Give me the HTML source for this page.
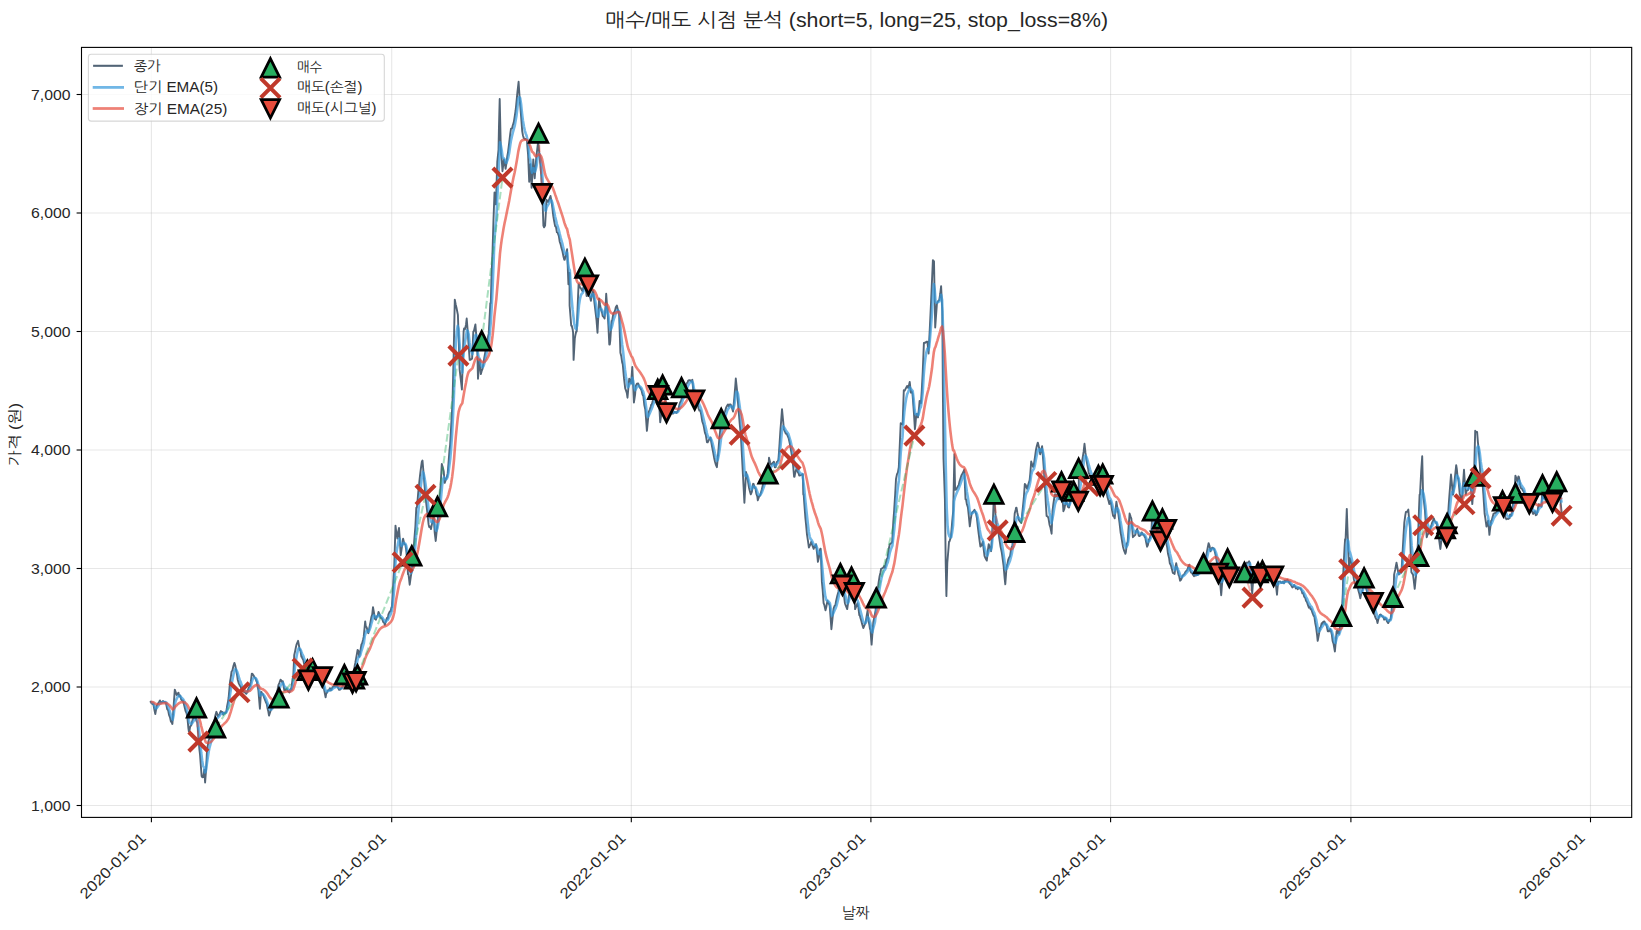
<!DOCTYPE html>
<html lang="ko"><head><meta charset="utf-8"><title>매수/매도 시점 분석</title>
<style>html,body{margin:0;padding:0;background:#fff}svg{display:block}</style></head>
<body>
<svg width="1641" height="930" viewBox="0 0 1641 930">
<rect width="1641" height="930" fill="#fff"/>
<g stroke="#b0b0b0" stroke-opacity="0.3" stroke-width="1.1" fill="none">
<path d="M151.4 47.4 V817.4"/>
<path d="M391.7 47.4 V817.4"/>
<path d="M631.3 47.4 V817.4"/>
<path d="M870.9 47.4 V817.4"/>
<path d="M1110.6 47.4 V817.4"/>
<path d="M1350.9 47.4 V817.4"/>
<path d="M1590.5 47.4 V817.4"/>
<path d="M81.5 805.5 H1631.7"/>
<path d="M81.5 687.0 H1631.7"/>
<path d="M81.5 568.5 H1631.7"/>
<path d="M81.5 450.0 H1631.7"/>
<path d="M81.5 331.5 H1631.7"/>
<path d="M81.5 213.0 H1631.7"/>
<path d="M81.5 94.5 H1631.7"/>
</g>
<clipPath id="c"><rect x="81.5" y="47.4" width="1550.2" height="770.0"/></clipPath>
<g clip-path="url(#c)" fill="none" stroke-linejoin="round">
<path d="M150.7 701.9 L151.6 703.2 L152.5 704.1 L153.0 704.1 L153.4 704.3 L154.4 709.9 L155.3 714.1 L156.2 708.9 L156.8 705.7 L158.0 703.6 L159.1 701.9 L159.9 700.4 L160.8 702.4 L161.7 702.2 L162.9 701.1 L163.6 701.6 L164.5 701.9 L165.4 702.4 L166.0 703.4 L167.2 709.1 L168.2 710.5 L169.0 714.8 L170.0 717.3 L170.9 721.5 L171.8 722.7 L172.4 724.0 L173.7 705.1 L174.8 689.6 L175.5 691.5 L176.7 695.0 L177.3 693.9 L178.5 692.7 L179.2 696.4 L180.1 695.5 L181.2 699.6 L181.9 700.2 L182.9 700.4 L183.8 703.7 L184.3 705.7 L185.6 711.2 L186.6 713.3 L187.5 718.7 L188.4 728.3 L188.9 731.6 L189.3 731.6 L190.2 726.3 L191.2 725.5 L192.1 721.4 L192.7 719.4 L193.9 717.8 L195.0 716.4 L195.7 718.0 L196.6 721.6 L197.3 722.3 L198.4 737.3 L199.4 749.3 L200.0 754.5 L201.6 776.0 L202.2 777.2 L203.2 777.1 L204.3 769.6 L205.1 782.5 L206.1 769.6 L207.0 750.2 L207.7 745.9 L208.6 740.5 L209.5 738.3 L210.3 737.7 L211.4 733.5 L212.3 728.6 L213.3 725.5 L214.1 723.8 L215.0 716.7 L216.4 711.8 L216.9 713.1 L217.9 716.4 L218.7 715.4 L219.6 714.0 L220.9 711.0 L221.5 712.1 L222.4 712.0 L223.2 714.8 L224.2 712.5 L225.1 713.2 L226.3 711.8 L227.0 706.8 L227.9 702.3 L228.6 698.0 L230.1 681.2 L230.7 677.8 L231.6 671.5 L232.4 670.5 L233.4 666.0 L234.4 662.9 L235.3 665.6 L236.2 670.5 L237.1 675.2 L237.7 679.7 L238.9 683.6 L240.0 685.8 L240.8 686.7 L241.7 690.6 L242.6 690.8 L243.8 691.9 L244.4 692.0 L245.4 692.9 L246.3 693.8 L246.9 692.7 L248.1 689.4 L249.0 687.2 L250.0 685.8 L250.9 681.2 L251.8 673.6 L252.2 673.6 L252.7 674.2 L253.6 675.5 L254.5 677.4 L255.5 678.3 L256.4 681.2 L256.8 681.2 L257.3 685.0 L258.4 690.4 L259.1 699.1 L259.9 708.7 L261.0 691.9 L261.4 691.9 L261.9 693.3 L262.8 694.0 L263.7 696.5 L264.7 699.1 L265.6 701.5 L266.8 704.1 L267.4 707.7 L268.3 711.4 L269.0 715.6 L270.2 712.0 L271.3 708.7 L272.0 707.8 L272.9 704.2 L273.9 703.0 L274.4 701.1 L275.7 696.1 L276.6 694.2 L277.4 690.4 L278.4 685.2 L279.4 682.8 L280.5 679.7 L281.2 680.3 L282.1 682.0 L282.8 681.2 L284.3 690.4 L284.9 690.4 L285.8 689.3 L286.6 688.9 L287.6 690.7 L288.9 691.9 L289.5 692.4 L290.4 689.2 L291.2 689.6 L292.2 681.8 L292.7 678.2 L293.2 678.2 L294.2 655.3 L295.0 651.7 L295.9 647.3 L296.5 644.6 L298.1 640.8 L298.7 644.2 L299.6 649.2 L300.5 650.9 L301.4 656.8 L301.9 656.8 L302.3 658.3 L303.3 659.9 L304.2 664.4 L305.1 665.4 L306.0 668.9 L306.9 671.4 L308.0 672.8 L308.8 674.2 L309.7 676.1 L310.6 679.7 L311.0 679.7 L311.5 677.6 L312.5 677.1 L313.4 677.2 L314.3 677.5 L315.6 675.1 L316.1 677.7 L317.1 678.1 L318.0 678.4 L318.9 680.2 L319.4 681.2 L320.7 681.8 L321.6 682.9 L322.6 685.3 L323.3 685.8 L324.4 691.0 L325.6 697.3 L326.2 693.6 L327.2 692.3 L327.8 690.4 L329.0 690.1 L329.9 688.2 L330.8 690.4 L331.8 689.0 L332.4 687.3 L333.6 686.4 L334.5 686.3 L335.4 686.5 L336.4 686.0 L337.0 685.8 L338.2 688.1 L339.1 689.8 L340.1 689.6 L341.0 688.4 L341.9 687.8 L343.1 685.8 L343.7 684.3 L344.6 685.5 L345.5 681.7 L346.2 681.2 L347.4 681.9 L348.3 683.2 L349.2 684.8 L350.0 684.3 L351.1 682.0 L352.0 679.1 L353.0 676.7 L353.8 671.8 L354.7 665.8 L355.3 662.9 L356.6 655.7 L357.6 649.9 L358.4 650.8 L359.2 656.8 L360.3 651.5 L361.4 644.6 L362.1 643.5 L363.0 640.0 L363.7 636.9 L365.2 621.4 L365.8 626.4 L366.7 627.4 L367.6 630.9 L368.3 633.2 L369.4 627.5 L370.6 621.4 L371.3 617.4 L372.2 614.5 L373.0 607.2 L374.0 613.0 L375.0 619.0 L375.4 619.0 L375.9 619.8 L376.8 616.3 L377.7 615.7 L378.5 611.9 L379.6 614.4 L380.5 617.9 L381.3 617.8 L382.3 619.3 L383.2 622.0 L384.2 622.7 L384.8 624.9 L386.0 620.9 L386.9 618.1 L387.8 618.7 L388.4 614.3 L389.7 611.7 L390.6 611.2 L391.5 607.2 L391.9 607.2 L392.4 599.3 L393.3 582.2 L394.3 564.6 L395.5 525.6 L396.1 530.6 L397.4 538.6 L397.9 533.8 L399.0 528.0 L399.8 539.3 L400.7 555.2 L401.6 549.2 L402.5 542.9 L403.1 538.6 L404.4 544.1 L405.3 544.5 L406.1 549.2 L407.1 559.1 L408.0 574.1 L408.5 574.1 L409.0 578.3 L409.7 584.7 L410.8 576.6 L412.0 569.4 L412.6 563.9 L413.6 549.4 L414.4 538.6 L415.4 526.0 L416.3 507.8 L416.8 507.8 L417.2 505.1 L418.2 492.8 L419.1 484.2 L420.0 475.6 L421.0 467.6 L421.8 462.0 L422.5 460.5 L423.9 477.1 L424.6 486.5 L425.5 496.0 L426.2 503.1 L427.3 512.1 L428.6 524.4 L429.2 527.0 L430.1 526.6 L431.0 529.1 L431.9 524.2 L432.9 520.0 L433.3 517.3 L433.8 517.3 L434.7 532.6 L435.7 541.0 L436.5 533.0 L437.6 522.0 L438.4 512.8 L439.3 502.0 L440.4 488.9 L441.1 476.6 L441.8 464.0 L443.0 468.2 L443.7 471.1 L444.7 482.9 L445.7 480.0 L446.7 477.7 L447.7 473.4 L448.5 463.1 L449.4 451.2 L450.1 445.1 L451.2 425.4 L452.5 402.5 L453.1 377.6 L453.7 352.8 L454.8 299.6 L455.8 304.9 L456.5 307.8 L457.9 314.9 L458.6 335.5 L459.6 369.4 L460.4 376.3 L461.4 385.0 L461.9 389.5 L463.6 331.5 L464.1 328.4 L465.0 329.1 L466.0 324.7 L466.7 318.5 L467.8 332.2 L468.3 341.0 L469.7 359.9 L470.5 359.8 L471.5 359.0 L472.1 358.7 L473.3 331.5 L473.8 331.5 L474.2 329.7 L475.4 324.4 L476.1 333.4 L477.3 350.4 L478.0 378.8 L478.8 368.5 L479.7 359.9 L480.9 374.1 L481.6 371.2 L482.5 369.0 L483.2 364.6 L484.3 357.7 L485.6 350.4 L486.2 347.1 L487.1 342.8 L488.0 336.8 L488.7 333.9 L489.9 311.6 L490.3 303.1 L490.8 303.1 L491.5 277.1 L492.6 249.2 L493.5 219.5 L494.5 192.5 L495.4 199.5 L495.9 204.3 L497.3 161.7 L498.5 149.9 L499.0 125.0 L499.7 99.0 L500.9 152.3 L501.8 161.1 L502.5 171.2 L503.9 159.4 L504.6 161.8 L505.6 168.8 L506.4 163.6 L507.3 156.1 L508.0 152.3 L509.2 142.7 L510.3 133.3 L511.0 128.7 L512.0 128.6 L512.8 125.3 L513.7 122.6 L514.3 119.1 L515.6 110.5 L516.2 104.9 L517.4 92.3 L518.6 81.8 L519.3 92.8 L519.8 100.2 L521.1 116.4 L522.2 131.0 L522.9 135.2 L523.8 138.1 L524.8 139.1 L525.7 139.0 L526.9 140.4 L527.5 147.9 L528.1 154.6 L529.2 181.8 L530.4 164.1 L531.6 187.7 L532.1 180.1 L533.3 159.4 L534.0 169.1 L534.7 178.3 L535.8 163.9 L536.3 157.0 L538.0 142.8 L538.6 145.6 L539.4 154.6 L540.4 165.1 L541.1 173.5 L542.3 192.5 L543.4 225.6 L544.1 227.3 L545.1 225.6 L545.9 211.5 L546.5 199.6 L547.8 201.9 L548.2 201.9 L548.7 200.6 L549.6 198.3 L550.5 196.0 L551.4 200.7 L552.4 208.4 L553.3 216.2 L554.1 220.9 L555.1 226.1 L556.0 227.0 L556.9 232.3 L557.6 232.7 L558.8 235.9 L559.7 241.7 L560.6 244.3 L561.2 246.9 L562.5 251.5 L563.4 256.2 L564.3 259.9 L564.7 259.9 L565.2 257.4 L566.1 254.5 L567.1 249.2 L568.4 284.2 L568.9 280.1 L569.5 272.9 L569.6 305.5 L570.7 319.0 L571.2 325.6 L571.7 325.6 L572.6 329.2 L573.1 332.7 L573.6 359.9 L574.8 338.6 L575.3 335.6 L576.2 331.5 L576.7 331.5 L577.2 317.9 L578.1 295.4 L578.6 284.2 L579.0 284.2 L580.2 287.7 L580.8 288.1 L581.8 290.1 L582.6 291.3 L583.6 286.4 L584.5 281.8 L584.9 281.8 L585.4 285.2 L586.6 296.0 L587.3 295.8 L588.5 293.7 L589.1 295.4 L590.0 296.9 L590.9 300.8 L591.9 295.3 L592.8 290.1 L593.2 290.1 L593.7 295.3 L594.6 304.2 L595.6 312.6 L596.5 320.1 L597.5 332.7 L598.3 316.8 L599.1 298.4 L600.1 305.0 L600.8 309.0 L602.0 312.4 L602.7 316.1 L603.8 317.2 L604.6 318.5 L605.7 303.7 L606.2 293.7 L607.9 317.3 L608.4 325.8 L609.3 344.5 L609.8 344.5 L610.3 340.4 L611.2 326.3 L611.7 320.9 L612.1 320.9 L613.3 313.8 L613.9 312.8 L614.9 311.1 L615.8 307.3 L616.9 305.5 L617.6 308.5 L618.5 312.2 L619.2 316.1 L620.4 352.8 L621.3 356.3 L622.2 362.6 L622.8 364.6 L624.0 378.2 L625.2 388.3 L625.9 390.1 L626.8 392.9 L627.5 397.7 L628.6 385.3 L629.2 378.8 L630.5 381.2 L631.1 383.5 L632.3 367.0 L633.2 386.7 L633.9 402.5 L635.1 394.5 L635.8 385.9 L636.9 383.8 L638.2 383.5 L638.8 385.4 L639.7 387.5 L640.5 388.3 L641.5 390.4 L642.4 394.1 L642.9 395.4 L643.3 395.4 L644.3 405.1 L645.3 409.6 L646.1 419.6 L646.9 430.9 L647.9 420.6 L648.8 411.9 L649.8 409.5 L650.7 406.8 L651.2 404.8 L651.6 404.8 L652.5 402.1 L653.5 397.7 L654.4 397.4 L655.3 397.7 L656.2 399.0 L657.3 401.0 L658.1 391.5 L658.5 391.5 L659.0 401.0 L660.2 422.3 L660.8 417.9 L661.7 411.9 L662.5 408.1 L663.6 403.9 L664.5 403.9 L665.6 398.6 L666.3 419.9 L666.8 419.9 L667.2 418.8 L668.2 414.5 L669.1 410.4 L670.0 411.6 L670.9 410.2 L671.8 412.3 L672.8 413.7 L673.9 412.8 L674.6 411.7 L675.5 412.4 L676.4 412.9 L677.4 411.6 L678.3 409.7 L679.2 405.6 L680.1 402.4 L681.0 401.0 L681.9 398.1 L682.9 393.5 L683.8 391.6 L684.5 389.1 L685.6 387.6 L686.5 383.4 L687.5 382.8 L688.1 380.9 L689.3 380.1 L690.2 380.2 L691.1 381.5 L692.3 379.7 L693.0 387.4 L694.0 398.6 L694.8 400.4 L695.7 399.0 L696.3 401.0 L697.6 403.0 L698.5 408.3 L699.4 410.6 L699.9 410.4 L700.3 410.4 L701.3 415.1 L702.2 421.2 L703.4 424.6 L704.0 427.6 L704.9 432.6 L705.8 434.9 L707.0 442.4 L707.7 442.4 L708.6 440.6 L709.5 439.1 L710.5 437.6 L711.4 442.9 L712.3 447.7 L713.2 452.7 L714.1 457.7 L715.0 461.8 L716.0 465.2 L716.9 467.2 L717.8 457.7 L718.7 447.1 L719.3 438.8 L720.6 426.4 L721.2 419.9 L722.4 416.6 L723.3 414.8 L724.2 413.1 L725.1 411.3 L726.1 407.7 L727.1 405.7 L727.9 404.4 L728.8 406.4 L729.7 404.4 L730.6 404.5 L731.6 406.6 L732.5 409.8 L733.0 411.6 L734.3 397.8 L735.3 385.7 L735.8 378.5 L737.1 390.8 L737.7 398.6 L738.9 414.1 L739.6 422.3 L740.8 435.5 L741.3 443.5 L742.9 474.3 L743.5 485.4 L744.4 502.7 L745.4 484.1 L746.0 471.9 L747.2 476.3 L748.4 483.8 L749.0 487.7 L750.0 491.8 L750.8 494.4 L751.8 492.0 L753.1 483.8 L753.6 484.0 L754.6 487.6 L755.5 488.5 L756.4 494.0 L757.3 496.4 L757.8 500.3 L759.2 496.3 L760.1 495.5 L761.4 490.9 L761.9 489.2 L762.8 485.2 L763.8 481.4 L764.7 478.1 L765.6 478.8 L766.5 477.2 L767.4 475.9 L768.0 474.3 L769.0 457.7 L770.2 462.4 L770.9 464.8 L772.0 463.8 L773.2 462.5 L773.9 461.7 L774.8 467.3 L775.6 467.2 L776.6 462.4 L777.5 461.3 L778.4 460.1 L779.4 446.1 L780.3 431.7 L781.2 420.4 L782.0 409.2 L783.1 420.6 L783.9 429.4 L784.9 431.5 L785.8 433.6 L786.7 433.7 L787.4 435.3 L788.6 438.0 L789.8 443.5 L790.4 446.7 L791.3 452.1 L792.2 457.7 L793.2 466.5 L794.1 476.7 L794.5 476.7 L795.0 474.1 L795.9 470.2 L796.9 468.4 L797.8 472.0 L798.7 473.6 L799.2 475.5 L800.5 475.2 L801.4 474.9 L802.4 474.3 L802.8 474.3 L803.3 494.4 L803.7 494.4 L804.2 502.2 L805.4 518.1 L806.0 524.0 L807.0 534.6 L807.9 540.3 L808.9 547.6 L809.7 545.9 L810.6 543.8 L811.3 541.7 L812.5 545.6 L813.7 548.8 L814.3 546.2 L815.2 547.3 L816.0 544.1 L817.1 553.6 L817.9 561.8 L818.9 557.5 L819.8 550.4 L820.3 548.8 L820.7 548.8 L821.9 581.9 L822.6 589.2 L823.6 603.2 L824.4 605.2 L825.5 610.3 L826.3 607.1 L827.4 600.9 L828.1 602.7 L829.0 603.8 L829.7 605.6 L830.8 620.7 L831.4 629.2 L833.1 612.7 L833.6 608.6 L834.5 606.0 L835.4 605.1 L836.1 600.9 L837.3 595.8 L838.5 591.4 L839.1 584.8 L840.4 574.8 L841.0 579.1 L841.9 580.6 L842.5 584.3 L843.7 593.0 L844.9 603.2 L845.6 605.2 L846.5 607.4 L847.2 609.1 L848.3 601.3 L849.1 593.8 L850.2 586.3 L851.1 578.4 L851.5 578.4 L852.0 581.6 L852.9 586.2 L853.8 590.7 L854.3 592.6 L855.1 609.1 L855.7 607.7 L856.6 605.8 L857.4 603.2 L858.4 607.4 L859.3 615.1 L859.8 615.1 L860.3 617.5 L861.2 620.4 L862.1 624.1 L863.3 628.1 L863.9 626.7 L864.9 624.1 L865.7 622.2 L866.7 615.7 L867.6 610.3 L868.5 620.2 L869.5 625.5 L870.0 629.2 L870.4 629.2 L871.6 644.6 L872.2 636.4 L873.3 622.2 L874.0 618.8 L875.0 613.6 L875.6 610.3 L876.3 598.5 L876.8 594.6 L877.7 589.2 L878.7 581.9 L879.6 576.1 L880.5 572.4 L881.1 568.9 L882.3 568.2 L883.2 567.7 L884.2 566.0 L884.6 567.7 L885.1 567.7 L886.0 562.2 L886.9 558.9 L887.5 558.3 L888.8 548.7 L889.8 544.1 L890.6 543.8 L891.5 543.0 L892.2 541.7 L893.3 521.7 L894.1 511.0 L895.2 493.8 L896.0 479.0 L897.0 474.1 L897.9 472.4 L898.8 467.2 L899.8 444.3 L900.7 423.3 L901.6 423.8 L902.6 424.5 L903.8 390.2 L904.4 390.9 L905.3 389.4 L906.1 387.8 L907.1 385.9 L908.1 387.8 L908.5 387.8 L909.0 385.3 L909.7 381.9 L910.9 392.6 L911.7 391.4 L912.5 393.8 L913.9 412.7 L914.9 429.2 L915.4 425.2 L916.3 413.9 L916.8 413.9 L917.2 415.0 L918.0 417.4 L919.1 406.9 L919.6 400.9 L921.0 403.2 L921.8 389.5 L922.7 372.5 L923.9 342.9 L924.6 342.7 L925.5 342.7 L926.4 341.7 L927.4 341.7 L928.6 353.5 L929.2 341.0 L930.3 318.1 L931.0 303.1 L931.7 287.3 L932.9 260.1 L934.0 261.3 L934.7 300.0 L935.2 327.5 L936.9 303.9 L937.5 302.1 L938.4 300.8 L939.2 300.3 L940.2 294.0 L941.1 286.1 L942.3 311.0 L942.8 381.9 L943.5 458.8 L944.9 499.1 L945.7 563.0 L946.4 596.1 L947.3 563.0 L948.5 548.5 L949.0 541.7 L949.4 541.7 L950.3 538.9 L950.9 537.0 L952.2 521.7 L953.2 511.0 L954.4 454.2 L955.1 489.7 L955.9 489.6 L956.8 488.4 L958.0 486.1 L958.6 485.6 L959.5 481.5 L960.3 479.0 L961.4 475.5 L962.7 473.1 L963.2 472.3 L964.3 469.6 L965.0 487.6 L965.5 499.1 L966.0 499.1 L966.9 504.3 L967.9 507.4 L968.7 514.9 L969.8 526.3 L970.6 520.2 L971.7 513.3 L972.4 512.2 L973.3 511.3 L974.5 509.8 L975.2 511.5 L976.1 513.8 L976.9 518.1 L977.9 527.3 L978.8 534.6 L979.7 541.6 L980.4 546.5 L981.6 545.4 L982.8 541.7 L983.4 546.8 L984.5 555.9 L985.3 557.9 L986.2 559.6 L986.8 560.6 L988.0 549.4 L988.7 544.1 L989.9 548.0 L991.1 551.2 L991.7 540.9 L993.0 518.1 L993.9 494.6 L994.9 506.2 L995.4 514.1 L996.3 525.2 L997.2 529.3 L998.2 531.1 L999.1 537.2 L1000.0 543.0 L1000.5 546.5 L1001.8 552.6 L1002.9 560.6 L1003.6 565.8 L1004.6 577.8 L1005.3 584.3 L1006.5 567.7 L1007.3 564.6 L1008.2 559.9 L1008.8 558.3 L1010.1 556.0 L1011.0 549.6 L1011.9 546.5 L1012.4 546.5 L1012.8 537.4 L1013.8 526.5 L1014.7 513.5 L1015.6 510.0 L1016.1 507.6 L1016.5 507.6 L1017.4 512.9 L1018.5 518.3 L1019.3 520.7 L1020.2 521.6 L1021.3 523.0 L1022.0 515.8 L1023.2 504.1 L1023.9 496.8 L1024.8 484.0 L1025.7 484.9 L1026.6 487.7 L1027.2 488.7 L1028.5 483.7 L1029.6 480.4 L1030.3 473.6 L1031.2 461.5 L1032.1 464.3 L1033.1 466.8 L1033.6 466.2 L1034.9 457.7 L1036.0 449.7 L1036.7 446.5 L1037.8 442.6 L1038.6 445.7 L1039.5 449.4 L1040.2 454.4 L1041.3 449.5 L1042.1 446.1 L1043.2 460.5 L1043.8 468.6 L1045.4 494.6 L1045.9 505.0 L1046.6 515.9 L1047.8 516.6 L1048.5 518.3 L1049.6 525.0 L1050.5 527.8 L1051.6 533.7 L1052.5 511.2 L1053.3 504.4 L1054.4 497.0 L1055.1 494.1 L1056.0 496.8 L1056.8 494.6 L1057.9 495.6 L1059.1 499.4 L1059.7 493.5 L1060.6 489.1 L1061.5 482.3 L1062.0 491.1 L1062.5 497.5 L1063.4 511.2 L1064.3 509.1 L1065.2 504.4 L1066.2 501.7 L1067.1 503.8 L1068.0 506.9 L1069.1 507.6 L1069.8 502.5 L1071.0 494.6 L1071.7 491.3 L1072.6 492.6 L1073.6 491.8 L1074.4 493.0 L1075.7 499.4 L1076.3 499.8 L1077.2 501.4 L1078.1 500.0 L1078.8 500.5 L1078.8 468.6 L1079.9 469.8 L1080.4 471.0 L1080.9 471.0 L1081.8 462.8 L1082.8 456.8 L1083.6 451.9 L1084.5 443.8 L1085.4 452.2 L1086.3 459.1 L1087.3 464.9 L1088.2 469.0 L1088.7 473.3 L1089.1 473.3 L1090.0 475.5 L1091.1 478.1 L1091.9 479.5 L1092.8 482.5 L1093.7 483.9 L1094.6 485.2 L1095.6 482.9 L1096.5 480.6 L1097.4 478.6 L1098.4 475.2 L1099.2 480.9 L1100.3 485.2 L1101.1 482.3 L1102.0 476.2 L1102.7 474.5 L1103.6 485.2 L1104.8 487.6 L1105.7 489.9 L1106.5 492.3 L1107.5 497.3 L1108.8 501.7 L1109.3 504.1 L1110.3 500.7 L1111.2 504.1 L1112.1 510.5 L1113.1 515.9 L1113.9 516.4 L1114.7 518.3 L1115.8 507.3 L1116.4 501.7 L1117.6 509.4 L1118.3 513.5 L1119.5 522.7 L1120.6 532.5 L1121.3 536.0 L1122.2 542.1 L1123.0 546.7 L1124.1 550.7 L1125.4 553.8 L1125.9 552.1 L1126.8 543.6 L1127.7 541.9 L1128.6 526.8 L1129.6 513.5 L1130.5 516.3 L1131.3 518.3 L1132.3 529.5 L1132.9 537.2 L1134.2 535.9 L1135.3 534.8 L1136.0 531.2 L1137.2 528.9 L1137.8 531.4 L1138.8 535.9 L1139.6 536.0 L1140.6 535.1 L1141.5 532.5 L1141.9 532.5 L1142.4 534.5 L1143.4 534.4 L1144.3 535.9 L1144.8 537.2 L1145.2 537.2 L1146.1 542.1 L1147.1 546.7 L1147.9 545.0 L1149.0 539.6 L1149.8 538.3 L1150.7 534.2 L1151.4 532.5 L1152.3 511.4 L1153.5 514.7 L1154.4 519.3 L1154.9 523.0 L1156.2 526.9 L1157.3 532.5 L1158.1 535.5 L1159.0 534.7 L1159.9 539.6 L1160.4 540.5 L1160.8 540.5 L1161.7 525.6 L1162.3 519.5 L1163.2 527.7 L1164.5 532.6 L1165.6 537.2 L1166.3 543.0 L1167.3 548.1 L1168.0 553.8 L1169.1 558.0 L1169.8 563.2 L1170.9 565.2 L1172.2 570.3 L1172.8 572.8 L1173.7 573.3 L1174.6 573.9 L1175.5 567.0 L1176.2 563.2 L1177.4 569.7 L1178.6 575.1 L1179.2 576.2 L1180.1 580.7 L1181.0 579.8 L1182.0 577.3 L1182.9 575.1 L1183.3 575.1 L1183.8 574.6 L1184.7 573.5 L1185.6 571.7 L1186.9 570.3 L1187.5 569.4 L1188.8 565.6 L1189.3 564.7 L1190.2 570.7 L1191.1 572.7 L1192.1 573.1 L1193.0 574.8 L1194.0 576.2 L1194.8 575.1 L1195.7 575.6 L1196.7 574.9 L1197.5 575.1 L1198.5 572.8 L1199.4 572.2 L1200.3 570.2 L1201.1 570.3 L1202.2 567.7 L1203.4 564.2 L1204.0 561.6 L1205.3 560.9 L1205.9 557.9 L1207.0 551.4 L1207.7 547.7 L1208.6 543.1 L1209.5 545.7 L1210.5 551.4 L1211.4 549.1 L1212.3 547.6 L1212.9 547.8 L1214.1 549.0 L1215.3 553.8 L1216.0 557.3 L1216.9 562.3 L1217.6 565.6 L1218.6 572.9 L1220.0 579.8 L1220.6 587.9 L1221.2 595.2 L1222.4 579.8 L1222.8 579.8 L1223.3 575.6 L1224.2 573.2 L1224.9 569.9 L1226.1 566.4 L1227.0 561.5 L1227.5 559.5 L1229.2 576.8 L1229.8 575.0 L1230.9 569.9 L1231.6 568.7 L1232.5 566.7 L1233.4 567.1 L1234.4 567.5 L1235.3 568.1 L1236.2 568.1 L1237.1 567.9 L1238.0 570.3 L1239.1 569.9 L1239.9 570.2 L1240.8 570.3 L1241.7 571.3 L1242.6 571.7 L1243.5 573.2 L1244.3 573.2 L1245.4 565.5 L1246.2 562.8 L1247.2 562.6 L1248.1 562.8 L1249.1 561.2 L1249.8 562.8 L1250.9 576.7 L1252.2 593.5 L1252.7 586.4 L1253.8 574.6 L1254.6 574.5 L1255.7 572.3 L1256.4 573.1 L1257.3 573.1 L1258.1 573.2 L1259.2 574.0 L1260.4 576.0 L1261.0 574.7 L1262.3 571.3 L1262.8 571.9 L1263.8 572.4 L1264.7 573.5 L1265.2 573.4 L1265.6 573.4 L1266.5 572.9 L1267.4 572.2 L1268.4 573.4 L1269.3 571.7 L1269.9 572.3 L1271.1 572.9 L1272.0 574.7 L1273.0 575.8 L1273.4 575.6 L1273.9 575.6 L1274.8 578.3 L1275.3 579.4 L1277.0 594.7 L1277.5 588.2 L1278.2 581.7 L1279.4 581.6 L1280.3 581.4 L1281.2 582.8 L1281.7 582.9 L1282.1 582.9 L1283.1 581.4 L1284.0 583.3 L1284.9 580.5 L1285.8 581.5 L1286.5 580.5 L1287.7 580.0 L1288.6 582.6 L1289.5 581.9 L1290.0 584.1 L1290.4 584.1 L1291.3 585.6 L1292.3 587.4 L1293.5 586.5 L1294.1 585.0 L1295.0 586.4 L1295.9 588.5 L1296.8 587.4 L1297.8 589.2 L1298.3 587.6 L1299.6 588.3 L1300.5 588.4 L1301.8 591.2 L1302.4 593.4 L1303.3 593.1 L1304.2 596.7 L1305.4 598.3 L1306.0 600.8 L1307.0 602.2 L1307.9 604.9 L1308.9 607.7 L1309.7 606.8 L1310.6 609.3 L1311.3 608.9 L1312.5 612.9 L1313.7 616.0 L1314.3 615.9 L1315.2 622.7 L1316.0 626.7 L1317.1 635.2 L1317.7 640.9 L1318.9 634.5 L1320.0 627.8 L1320.7 627.3 L1321.7 623.1 L1322.6 623.8 L1323.1 621.9 L1324.4 621.4 L1325.5 624.3 L1326.3 624.7 L1327.2 628.3 L1327.8 631.4 L1329.0 631.4 L1330.2 629.0 L1330.9 630.8 L1331.8 634.4 L1332.6 640.9 L1333.6 644.0 L1334.9 651.5 L1335.5 644.5 L1336.6 631.4 L1337.3 630.2 L1338.2 633.2 L1339.0 633.8 L1340.0 626.5 L1340.9 621.9 L1341.6 616.7 L1342.8 593.5 L1343.2 574.6 L1343.7 563.4 L1344.6 546.7 L1345.1 539.1 L1345.6 539.1 L1346.8 508.9 L1347.4 527.2 L1348.0 543.9 L1349.1 569.4 L1349.8 558.1 L1351.1 562.8 L1351.5 562.8 L1352.0 567.3 L1352.9 572.6 L1353.9 579.4 L1354.8 583.1 L1355.7 585.0 L1356.2 585.3 L1357.5 587.1 L1358.6 591.2 L1359.4 594.0 L1360.3 598.3 L1361.2 594.3 L1362.2 591.2 L1363.0 585.8 L1364.0 578.4 L1364.9 582.6 L1365.7 586.5 L1366.7 590.6 L1367.6 595.1 L1368.5 600.4 L1369.2 603.0 L1370.4 601.9 L1371.3 602.8 L1372.2 602.4 L1373.3 602.1 L1374.0 612.5 L1375.0 616.4 L1375.9 618.6 L1376.8 619.8 L1377.5 623.1 L1378.7 617.7 L1379.9 614.8 L1380.5 614.5 L1381.4 615.5 L1382.3 616.4 L1383.4 617.2 L1384.2 619.7 L1385.1 617.9 L1385.8 618.4 L1386.9 621.2 L1388.2 623.1 L1388.8 621.9 L1389.7 619.6 L1390.5 619.6 L1391.5 611.8 L1392.4 600.5 L1392.9 597.8 L1393.4 597.8 L1394.1 574.6 L1395.2 569.7 L1396.5 562.8 L1397.0 565.1 L1398.0 571.2 L1398.8 574.6 L1399.8 572.8 L1400.7 571.8 L1401.2 569.9 L1401.6 569.9 L1402.4 555.7 L1403.5 536.0 L1404.3 522.6 L1405.3 515.3 L1405.9 511.9 L1407.1 511.8 L1408.3 509.6 L1409.0 517.8 L1409.9 527.3 L1410.8 556.1 L1411.4 572.3 L1413.0 574.6 L1413.6 579.2 L1414.7 588.8 L1415.4 581.9 L1416.6 569.9 L1417.3 554.6 L1417.9 541.9 L1419.1 506.7 L1419.6 494.6 L1420.0 494.6 L1421.2 471.0 L1422.2 456.3 L1423.1 494.6 L1423.7 499.0 L1425.0 511.2 L1425.5 519.2 L1426.7 537.2 L1427.4 534.9 L1428.3 533.7 L1429.0 532.5 L1430.1 529.4 L1431.4 525.4 L1432.0 523.1 L1432.9 520.8 L1433.8 518.3 L1434.7 521.1 L1435.6 521.9 L1436.1 523.0 L1436.6 523.0 L1437.5 529.2 L1438.5 534.8 L1439.3 541.2 L1440.4 549.0 L1441.2 542.2 L1442.0 534.8 L1443.0 531.3 L1443.9 527.7 L1444.8 530.2 L1445.4 530.6 L1446.5 536.7 L1447.5 523.5 L1448.5 508.2 L1449.1 499.4 L1450.3 483.9 L1451.0 474.5 L1452.2 486.7 L1452.7 494.6 L1453.1 494.6 L1454.3 482.8 L1454.9 477.7 L1456.2 465.1 L1456.8 468.8 L1457.7 478.1 L1458.1 478.1 L1458.6 481.4 L1459.8 494.6 L1460.5 495.7 L1461.4 499.4 L1462.2 499.4 L1463.2 481.6 L1464.0 469.8 L1465.1 486.2 L1465.7 494.6 L1466.9 490.3 L1468.1 489.9 L1468.7 487.5 L1469.6 484.8 L1470.4 482.8 L1471.5 495.1 L1472.3 504.1 L1473.3 490.0 L1474.0 478.1 L1475.2 430.8 L1476.1 432.1 L1477.1 431.9 L1477.9 442.0 L1478.7 449.7 L1479.8 464.6 L1480.6 478.1 L1481.6 479.2 L1482.3 480.4 L1483.4 494.6 L1484.6 513.5 L1485.3 518.2 L1486.5 526.6 L1487.1 525.1 L1488.2 520.6 L1489.4 534.8 L1489.9 530.3 L1490.8 524.1 L1491.2 520.6 L1491.7 520.6 L1492.6 517.0 L1493.5 513.7 L1494.1 513.5 L1495.4 513.0 L1496.3 512.5 L1497.2 511.2 L1497.6 511.2 L1498.1 510.5 L1499.1 508.0 L1500.0 507.2 L1500.7 505.3 L1501.8 501.8 L1502.4 501.2 L1503.5 506.5 L1504.6 512.9 L1505.5 518.3 L1505.9 518.3 L1506.4 519.2 L1507.3 518.6 L1508.3 519.0 L1509.5 518.3 L1510.1 514.4 L1511.0 515.7 L1511.8 513.5 L1512.8 504.8 L1513.8 494.6 L1514.2 494.6 L1514.7 487.0 L1515.4 475.7 L1516.5 478.7 L1517.3 481.6 L1518.4 476.4 L1518.9 476.9 L1520.6 487.5 L1521.1 488.3 L1522.0 488.7 L1523.0 490.8 L1523.7 491.1 L1524.8 498.1 L1525.3 499.4 L1526.6 503.8 L1527.2 506.5 L1528.5 503.6 L1529.6 503.4 L1530.3 507.1 L1531.2 509.6 L1531.9 511.2 L1533.1 513.9 L1534.0 512.4 L1534.9 511.2 L1535.8 515.2 L1536.7 514.7 L1537.7 510.3 L1538.6 504.1 L1539.0 504.1 L1539.5 505.8 L1540.4 505.0 L1541.4 506.5 L1542.6 485.2 L1543.2 492.0 L1543.8 498.2 L1545.0 499.0 L1546.1 501.7 L1546.9 499.0 L1547.8 501.0 L1548.7 500.3 L1549.7 499.4 L1550.5 499.7 L1551.4 501.0 L1552.4 502.3 L1553.2 502.2 L1554.2 498.1 L1555.1 494.6 L1555.6 492.3 L1556.0 492.3 L1556.8 482.1 L1557.9 492.1 L1558.4 494.6 L1559.7 497.1 L1560.3 499.4 L1561.5 511.2 L1562.0 515.9" stroke="#34495e" stroke-opacity="0.85" stroke-width="1.9" stroke-linecap="square"/>
<path d="M150.7 701.9 L151.6 702.3 L152.5 702.9 L153.4 703.4 L154.4 705.5 L155.3 708.4 L156.2 708.5 L157.1 707.6 L158.0 706.2 L159.0 704.8 L159.9 703.3 L160.8 703.0 L161.7 702.7 L162.6 702.2 L163.6 702.0 L164.5 702.0 L165.4 702.1 L166.3 702.5 L167.2 704.7 L168.2 706.7 L169.1 709.4 L170.0 712.0 L170.9 715.2 L171.8 717.7 L172.7 719.8 L173.7 714.9 L174.6 706.5 L175.5 701.5 L176.4 699.3 L177.3 697.5 L178.3 695.9 L179.2 696.1 L180.1 695.9 L181.0 697.1 L181.9 698.1 L182.9 698.9 L183.8 700.5 L184.7 702.2 L185.6 705.2 L186.5 707.9 L187.5 711.5 L188.4 717.1 L189.3 722.0 L190.2 723.4 L191.1 724.1 L192.1 723.2 L193.0 721.9 L193.9 720.6 L194.8 719.2 L195.7 718.8 L196.6 719.7 L197.6 720.6 L198.5 726.1 L199.4 733.9 L200.3 740.7 L201.2 752.5 L202.2 760.7 L203.1 766.2 L204.0 767.3 L204.9 772.4 L205.8 771.4 L206.8 764.4 L207.7 758.2 L208.6 752.3 L209.5 747.6 L210.4 744.3 L211.4 740.7 L212.3 736.7 L213.2 733.0 L214.1 729.9 L215.0 725.5 L215.9 720.9 L216.9 718.3 L217.8 717.7 L218.7 716.9 L219.6 715.9 L220.5 714.3 L221.5 713.6 L222.4 713.1 L223.3 713.7 L224.2 713.3 L225.1 713.2 L226.1 712.7 L227.0 710.8 L227.9 707.9 L228.8 704.6 L229.7 696.8 L230.7 690.5 L231.6 684.1 L232.5 679.6 L233.4 675.1 L234.3 671.0 L235.3 669.2 L236.2 669.7 L237.1 671.5 L238.0 674.2 L238.9 677.3 L239.8 680.2 L240.8 682.3 L241.7 685.1 L242.6 687.0 L243.5 688.6 L244.4 689.8 L245.4 690.8 L246.3 691.8 L247.2 692.1 L248.1 691.2 L249.0 689.9 L250.0 688.5 L250.9 686.1 L251.8 681.9 L252.7 679.3 L253.6 678.1 L254.6 677.8 L255.5 678.0 L256.4 679.1 L257.3 681.0 L258.2 684.2 L259.1 689.1 L260.1 695.7 L261.0 694.4 L261.9 694.1 L262.8 694.0 L263.7 694.9 L264.7 696.3 L265.6 698.0 L266.5 700.1 L267.4 702.6 L268.3 705.5 L269.3 708.9 L270.2 709.9 L271.1 709.5 L272.0 709.0 L272.9 707.4 L273.9 705.9 L274.8 704.3 L275.7 701.6 L276.6 699.1 L277.5 696.2 L278.4 692.5 L279.4 689.3 L280.3 686.1 L281.2 684.2 L282.1 683.5 L283.0 682.7 L284.0 685.3 L284.9 687.0 L285.8 687.8 L286.7 688.1 L287.6 689.0 L288.6 690.0 L289.5 690.8 L290.4 690.3 L291.3 690.1 L292.2 687.3 L293.2 684.3 L294.1 674.6 L295.0 667.0 L295.9 660.4 L296.8 655.2 L297.8 650.4 L298.7 648.3 L299.6 648.6 L300.5 649.4 L301.4 651.8 L302.3 654.0 L303.3 656.0 L304.2 658.8 L305.1 661.0 L306.0 663.6 L306.9 666.2 L307.9 668.4 L308.8 670.3 L309.7 672.3 L310.6 674.8 L311.5 675.7 L312.5 676.2 L313.4 676.5 L314.3 676.8 L315.2 676.3 L316.1 676.7 L317.1 677.2 L318.0 677.6 L318.9 678.5 L319.8 679.4 L320.7 680.2 L321.6 681.1 L322.6 682.5 L323.5 683.6 L324.4 686.1 L325.3 689.8 L326.2 691.1 L327.2 691.5 L328.1 691.1 L329.0 690.8 L329.9 689.9 L330.8 690.1 L331.8 689.7 L332.7 688.9 L333.6 688.1 L334.5 687.5 L335.4 687.2 L336.4 686.8 L337.3 686.5 L338.2 687.0 L339.1 687.9 L340.0 688.5 L341.0 688.5 L341.9 688.2 L342.8 687.4 L343.7 686.4 L344.6 686.1 L345.5 684.6 L346.5 683.5 L347.4 682.9 L348.3 683.0 L349.2 683.6 L350.1 683.8 L351.1 683.2 L352.0 681.8 L352.9 680.1 L353.8 677.3 L354.7 673.5 L355.7 670.0 L356.6 665.2 L357.5 660.1 L358.4 657.0 L359.3 656.9 L360.3 655.1 L361.2 651.6 L362.1 648.9 L363.0 645.9 L363.9 642.9 L364.8 635.8 L365.8 632.6 L366.7 630.9 L367.6 630.9 L368.5 631.7 L369.4 630.3 L370.4 627.3 L371.3 624.0 L372.2 620.8 L373.1 616.3 L374.0 615.2 L375.0 616.5 L375.9 617.6 L376.8 617.2 L377.7 616.7 L378.6 615.1 L379.6 614.9 L380.5 615.9 L381.4 616.5 L382.3 617.5 L383.2 619.0 L384.2 620.2 L385.1 621.8 L386.0 621.5 L386.9 620.3 L387.8 619.8 L388.7 618.0 L389.7 615.9 L390.6 614.3 L391.5 611.9 L392.4 607.7 L393.3 599.2 L394.3 587.7 L395.2 567.0 L396.1 554.9 L397.0 549.4 L397.9 544.2 L398.9 538.8 L399.8 539.0 L400.7 544.4 L401.6 546.0 L402.5 545.0 L403.5 542.8 L404.4 543.3 L405.3 543.7 L406.2 545.5 L407.1 550.1 L408.0 558.1 L409.0 564.8 L409.9 571.4 L410.8 573.2 L411.7 571.9 L412.6 569.2 L413.6 562.6 L414.5 554.6 L415.4 545.1 L416.3 532.7 L417.2 523.5 L418.2 513.3 L419.1 503.6 L420.0 494.3 L420.9 485.4 L421.8 477.6 L422.8 471.9 L423.7 473.6 L424.6 477.9 L425.5 484.0 L426.4 490.4 L427.3 497.6 L428.3 506.5 L429.2 513.4 L430.1 517.8 L431.0 521.6 L431.9 522.4 L432.9 521.6 L433.8 520.2 L434.7 524.3 L435.6 529.9 L436.5 530.9 L437.5 528.0 L438.4 522.9 L439.3 515.9 L440.2 506.9 L441.1 496.8 L442.1 485.9 L443.0 480.0 L443.9 477.0 L444.8 479.0 L445.7 479.3 L446.7 478.8 L447.6 477.0 L448.5 472.4 L449.4 465.3 L450.3 458.6 L451.2 447.5 L452.2 432.5 L453.1 414.2 L454.0 393.7 L454.9 362.3 L455.8 343.2 L456.8 331.4 L457.7 325.9 L458.6 329.1 L459.5 342.5 L460.4 353.8 L461.4 364.2 L462.3 372.6 L463.2 358.9 L464.1 348.7 L465.0 342.2 L466.0 336.4 L466.9 330.4 L467.8 331.0 L468.7 334.3 L469.6 342.9 L470.5 348.5 L471.5 352.0 L472.4 354.2 L473.3 346.7 L474.2 341.0 L475.1 335.5 L476.1 334.8 L477.0 340.0 L477.9 352.9 L478.8 358.1 L479.7 358.7 L480.7 363.8 L481.6 366.3 L482.5 367.2 L483.4 366.3 L484.3 363.5 L485.3 359.1 L486.2 355.1 L487.1 351.0 L488.0 346.3 L488.9 342.1 L489.9 332.0 L490.8 322.3 L491.7 307.3 L492.6 287.9 L493.5 265.1 L494.4 240.9 L495.4 227.1 L496.3 219.5 L497.2 200.2 L498.1 183.5 L499.0 164.0 L500.0 142.3 L500.9 145.6 L501.8 150.8 L502.7 157.6 L503.6 158.2 L504.6 159.4 L505.5 162.5 L506.4 162.9 L507.3 160.6 L508.2 157.8 L509.2 152.8 L510.1 146.3 L511.0 140.4 L511.9 136.5 L512.8 132.8 L513.7 129.4 L514.7 126.0 L515.6 120.8 L516.5 115.5 L517.4 107.8 L518.3 99.1 L519.3 97.0 L520.2 98.1 L521.1 104.2 L522.0 113.1 L522.9 120.5 L523.9 126.3 L524.8 130.6 L525.7 133.4 L526.6 135.7 L527.5 139.8 L528.5 144.7 L529.4 157.1 L530.3 159.4 L531.2 168.9 L532.1 172.6 L533.0 168.2 L534.0 168.5 L534.9 171.7 L535.8 169.1 L536.7 165.1 L537.6 157.7 L538.6 153.7 L539.5 154.0 L540.4 157.7 L541.3 163.0 L542.2 172.8 L543.2 190.4 L544.1 202.7 L545.0 210.3 L545.9 210.7 L546.8 207.0 L547.8 205.3 L548.7 203.8 L549.6 202.0 L550.5 200.0 L551.4 200.2 L552.4 202.9 L553.3 207.4 L554.2 211.9 L555.1 216.6 L556.0 220.1 L556.9 224.1 L557.9 227.0 L558.8 230.0 L559.7 233.9 L560.6 237.4 L561.5 240.5 L562.5 244.2 L563.4 248.2 L564.3 252.1 L565.2 253.9 L566.1 254.1 L567.1 252.5 L568.0 263.0 L568.9 268.7 L569.8 270.1 L570.7 286.4 L571.7 299.5 L572.6 309.4 L573.5 317.1 L574.4 324.3 L575.3 328.1 L576.2 329.2 L577.2 325.4 L578.1 315.4 L579.0 305.0 L579.9 299.3 L580.8 295.5 L581.8 293.7 L582.7 292.9 L583.6 290.7 L584.5 287.8 L585.4 286.9 L586.4 289.9 L587.3 291.9 L588.2 292.5 L589.1 293.4 L590.0 294.6 L591.0 296.6 L591.9 296.2 L592.8 294.2 L593.7 294.5 L594.6 297.8 L595.6 302.7 L596.5 308.5 L597.4 316.6 L598.3 316.7 L599.2 310.6 L600.1 308.7 L601.1 308.8 L602.0 310.0 L602.9 312.1 L603.8 313.8 L604.7 315.3 L605.7 311.4 L606.6 305.5 L607.5 309.4 L608.4 314.9 L609.3 324.8 L610.3 330.0 L611.2 328.8 L612.1 326.1 L613.0 322.0 L613.9 318.9 L614.9 316.3 L615.8 313.3 L616.7 310.7 L617.6 310.0 L618.5 310.7 L619.4 312.5 L620.4 325.9 L621.3 336.1 L622.2 344.9 L623.1 351.5 L624.0 360.4 L625.0 369.7 L625.9 376.5 L626.8 382.0 L627.7 387.2 L628.6 386.6 L629.6 384.0 L630.5 383.1 L631.4 383.2 L632.3 377.8 L633.2 380.8 L634.2 388.0 L635.1 390.2 L636.0 388.8 L636.9 387.1 L637.8 385.9 L638.8 385.7 L639.7 386.3 L640.6 387.0 L641.5 388.1 L642.4 390.1 L643.3 391.9 L644.3 396.3 L645.2 400.7 L646.1 407.0 L647.0 415.0 L647.9 416.8 L648.9 415.2 L649.8 413.3 L650.7 411.1 L651.6 409.0 L652.5 406.7 L653.5 403.7 L654.4 401.6 L655.3 400.3 L656.2 399.9 L657.1 400.2 L658.1 397.3 L659.0 398.6 L659.9 406.5 L660.8 410.3 L661.7 410.8 L662.6 409.9 L663.6 407.9 L664.5 406.6 L665.4 403.9 L666.3 409.2 L667.2 412.4 L668.2 413.1 L669.1 412.2 L670.0 412.0 L670.9 411.4 L671.8 411.7 L672.8 412.4 L673.7 412.5 L674.6 412.3 L675.5 412.3 L676.4 412.5 L677.4 412.2 L678.3 411.4 L679.2 409.5 L680.1 407.1 L681.0 405.1 L681.9 402.7 L682.9 399.7 L683.8 397.0 L684.7 394.4 L685.6 392.1 L686.5 389.2 L687.5 387.1 L688.4 385.0 L689.3 383.4 L690.2 382.3 L691.1 382.0 L692.1 381.3 L693.0 383.3 L693.9 388.4 L694.8 392.4 L695.7 394.6 L696.7 396.7 L697.6 398.8 L698.5 402.0 L699.4 404.9 L700.3 406.7 L701.3 409.5 L702.2 413.4 L703.1 417.1 L704.0 420.6 L704.9 424.6 L705.8 428.1 L706.8 432.8 L707.7 436.0 L708.6 437.5 L709.5 438.1 L710.4 437.9 L711.4 439.6 L712.3 442.3 L713.2 445.8 L714.1 449.8 L715.0 453.8 L716.0 457.6 L716.9 460.8 L717.8 459.7 L718.7 455.5 L719.6 449.9 L720.6 442.1 L721.5 434.7 L722.4 428.7 L723.3 424.0 L724.2 420.4 L725.1 417.4 L726.1 414.2 L727.0 411.3 L727.9 409.0 L728.8 408.2 L729.7 406.9 L730.7 406.1 L731.6 406.3 L732.5 407.4 L733.4 408.8 L734.3 405.2 L735.3 398.7 L736.2 392.0 L737.1 391.6 L738.0 393.9 L738.9 400.6 L739.9 407.8 L740.8 417.1 L741.7 425.9 L742.6 442.0 L743.5 456.5 L744.5 471.9 L745.4 475.9 L746.3 474.6 L747.2 475.2 L748.1 478.0 L749.0 481.3 L750.0 484.8 L750.9 488.0 L751.8 489.3 L752.7 487.5 L753.6 486.3 L754.6 486.8 L755.5 487.3 L756.4 489.5 L757.3 491.8 L758.2 494.7 L759.2 495.2 L760.1 495.3 L761.0 493.8 L761.9 492.3 L762.8 489.9 L763.8 487.1 L764.7 484.1 L765.6 482.3 L766.5 480.6 L767.4 479.0 L768.3 477.5 L769.3 470.9 L770.2 468.1 L771.1 467.0 L772.0 465.9 L772.9 464.8 L773.9 463.8 L774.8 464.9 L775.7 465.7 L776.6 464.6 L777.5 463.5 L778.5 462.4 L779.4 456.9 L780.3 448.5 L781.2 439.2 L782.1 429.2 L783.1 426.3 L784.0 427.3 L784.9 428.7 L785.8 430.4 L786.7 431.5 L787.6 432.7 L788.6 434.5 L789.5 437.5 L790.4 440.6 L791.3 444.4 L792.2 448.9 L793.2 454.7 L794.1 462.1 L795.0 466.1 L795.9 467.5 L796.8 467.8 L797.8 469.2 L798.7 470.7 L799.6 472.3 L800.5 473.3 L801.4 473.8 L802.4 474.0 L803.3 480.8 L804.2 487.9 L805.1 498.0 L806.0 506.7 L807.0 516.0 L807.9 524.1 L808.8 531.9 L809.7 536.6 L810.6 539.0 L811.5 539.9 L812.5 541.8 L813.4 544.1 L814.3 544.8 L815.2 545.6 L816.1 545.1 L817.1 548.0 L818.0 552.6 L818.9 554.2 L819.8 552.9 L820.7 551.6 L821.7 561.7 L822.6 570.8 L823.5 581.6 L824.4 589.5 L825.3 596.4 L826.3 600.0 L827.2 600.3 L828.1 601.1 L829.0 602.0 L829.9 603.2 L830.8 609.0 L831.8 615.8 L832.7 614.7 L833.6 612.7 L834.5 610.5 L835.4 608.7 L836.4 606.1 L837.3 602.6 L838.2 598.9 L839.1 594.2 L840.0 587.7 L841.0 584.9 L841.9 583.4 L842.8 583.7 L843.7 586.8 L844.6 592.3 L845.6 596.6 L846.5 600.2 L847.4 603.2 L848.3 602.6 L849.2 599.6 L850.2 595.2 L851.1 589.6 L852.0 586.9 L852.9 586.7 L853.8 588.0 L854.7 589.5 L855.7 595.6 L856.6 599.0 L857.5 600.4 L858.4 602.7 L859.3 606.8 L860.3 610.4 L861.2 613.7 L862.1 617.2 L863.0 620.8 L863.9 622.8 L864.9 623.2 L865.8 622.9 L866.7 620.5 L867.6 617.1 L868.5 618.1 L869.5 620.6 L870.4 623.5 L871.3 630.5 L872.2 632.5 L873.1 629.0 L874.0 625.6 L875.0 621.6 L875.9 613.9 L876.8 607.5 L877.7 601.4 L878.6 594.9 L879.6 588.6 L880.5 583.2 L881.4 578.4 L882.3 575.0 L883.2 572.6 L884.2 570.4 L885.1 569.5 L886.0 567.1 L886.9 564.3 L887.8 562.3 L888.8 557.8 L889.7 553.2 L890.6 550.1 L891.5 547.7 L892.4 545.7 L893.3 537.7 L894.3 528.8 L895.2 517.1 L896.1 504.4 L897.0 494.3 L897.9 487.0 L898.9 480.4 L899.8 468.4 L900.7 453.4 L901.6 443.5 L902.5 437.2 L903.5 421.5 L904.4 411.3 L905.3 404.0 L906.2 398.6 L907.1 394.4 L908.1 392.2 L909.0 389.9 L909.9 387.3 L910.8 389.0 L911.7 389.8 L912.7 391.1 L913.6 398.3 L914.5 408.6 L915.4 414.2 L916.3 414.1 L917.2 414.4 L918.2 415.4 L919.1 412.6 L920.0 408.7 L920.9 406.9 L921.8 401.1 L922.8 391.5 L923.7 375.3 L924.6 364.5 L925.5 357.2 L926.4 352.0 L927.4 348.6 L928.3 350.2 L929.2 347.2 L930.1 337.5 L931.0 326.0 L932.0 313.1 L932.9 295.4 L933.8 284.1 L934.7 289.4 L935.6 302.1 L936.5 302.7 L937.5 302.5 L938.4 301.9 L939.3 301.4 L940.2 298.9 L941.1 294.7 L942.1 300.1 L943.0 327.4 L943.9 371.2 L944.8 413.8 L945.7 463.6 L946.7 507.8 L947.6 526.2 L948.5 533.6 L949.4 536.3 L950.3 537.2 L951.3 537.1 L952.2 532.0 L953.1 525.0 L954.0 501.4 L954.9 497.5 L955.9 494.9 L956.8 492.7 L957.7 490.5 L958.6 488.9 L959.5 486.4 L960.4 484.0 L961.4 481.1 L962.3 478.5 L963.2 476.4 L964.1 474.1 L965.0 478.6 L966.0 485.5 L966.9 491.7 L967.8 497.0 L968.7 503.0 L969.6 510.7 L970.6 513.9 L971.5 513.7 L972.4 513.2 L973.3 512.6 L974.2 511.7 L975.2 511.6 L976.1 512.3 L977.0 514.2 L977.9 518.6 L978.8 523.9 L979.7 529.8 L980.7 535.4 L981.6 538.7 L982.5 539.7 L983.4 542.1 L984.3 546.7 L985.3 550.4 L986.2 553.5 L987.1 555.9 L988.0 553.7 L988.9 550.5 L989.9 549.7 L990.8 550.2 L991.7 547.1 L992.6 537.4 L993.5 523.2 L994.5 517.5 L995.4 516.4 L996.3 519.3 L997.2 522.6 L998.1 525.5 L999.1 529.4 L1000.0 533.9 L1000.9 538.1 L1001.8 542.9 L1002.7 548.8 L1003.6 554.5 L1004.6 562.2 L1005.5 569.6 L1006.4 569.0 L1007.3 567.5 L1008.2 565.0 L1009.2 562.7 L1010.1 560.5 L1011.0 556.9 L1011.9 553.4 L1012.8 548.1 L1013.8 540.9 L1014.7 531.8 L1015.6 524.5 L1016.5 518.9 L1017.4 516.9 L1018.4 517.3 L1019.3 518.5 L1020.2 519.5 L1021.1 520.7 L1022.0 519.1 L1022.9 514.1 L1023.9 508.3 L1024.8 500.2 L1025.7 495.1 L1026.6 492.6 L1027.5 491.3 L1028.5 488.8 L1029.4 486.0 L1030.3 481.9 L1031.2 475.1 L1032.1 471.5 L1033.1 469.9 L1034.0 468.7 L1034.9 465.0 L1035.8 459.9 L1036.7 455.5 L1037.7 451.2 L1038.6 449.4 L1039.5 449.4 L1040.4 451.0 L1041.3 450.5 L1042.2 449.1 L1043.2 452.9 L1044.1 458.1 L1045.0 470.3 L1045.9 481.9 L1046.8 493.2 L1047.8 501.0 L1048.7 506.8 L1049.6 512.9 L1050.5 517.8 L1051.4 523.1 L1052.4 519.1 L1053.3 514.2 L1054.2 508.5 L1055.1 503.7 L1056.0 501.4 L1057.0 499.1 L1057.9 497.9 L1058.8 498.4 L1059.7 496.8 L1060.6 494.2 L1061.6 493.2 L1062.5 494.6 L1063.4 500.1 L1064.3 503.1 L1065.2 503.6 L1066.1 502.9 L1067.1 503.2 L1068.0 504.5 L1068.9 505.5 L1069.8 504.5 L1070.7 501.2 L1071.7 497.9 L1072.6 496.1 L1073.5 494.7 L1074.4 494.1 L1075.3 495.9 L1076.3 497.2 L1077.2 498.6 L1078.1 499.1 L1079.0 499.6 L1079.9 489.6 L1080.9 483.4 L1081.8 476.6 L1082.7 470.0 L1083.6 463.9 L1084.5 457.2 L1085.4 455.6 L1086.4 456.8 L1087.3 459.5 L1088.2 462.7 L1089.1 466.2 L1090.0 469.3 L1091.0 472.2 L1091.9 474.6 L1092.8 477.3 L1093.7 479.5 L1094.6 481.4 L1095.6 481.9 L1096.5 481.5 L1097.4 480.5 L1098.3 478.8 L1099.2 479.5 L1100.2 481.4 L1101.1 481.7 L1102.0 479.9 L1102.9 478.1 L1103.8 480.4 L1104.8 482.8 L1105.7 485.2 L1106.6 487.5 L1107.5 490.8 L1108.4 494.4 L1109.3 497.6 L1110.3 498.7 L1111.2 500.5 L1112.1 503.8 L1113.0 507.9 L1113.9 510.7 L1114.9 513.2 L1115.8 511.2 L1116.7 508.1 L1117.6 508.5 L1118.5 510.2 L1119.5 514.4 L1120.4 520.4 L1121.3 525.6 L1122.2 531.1 L1123.1 536.3 L1124.1 541.1 L1125.0 545.3 L1125.9 547.6 L1126.8 546.3 L1127.7 544.8 L1128.6 538.8 L1129.6 530.4 L1130.5 525.7 L1131.4 523.2 L1132.3 525.3 L1133.2 529.3 L1134.2 531.5 L1135.1 532.6 L1136.0 532.1 L1136.9 531.1 L1137.8 531.2 L1138.8 532.7 L1139.7 533.8 L1140.6 534.2 L1141.5 533.6 L1142.4 533.9 L1143.4 534.1 L1144.3 534.7 L1145.2 535.5 L1146.1 537.7 L1147.0 540.7 L1147.9 542.1 L1148.9 541.3 L1149.8 540.3 L1150.7 538.2 L1151.6 536.3 L1152.5 528.0 L1153.5 523.6 L1154.4 522.1 L1155.3 522.4 L1156.2 523.9 L1157.1 526.8 L1158.1 529.7 L1159.0 531.3 L1159.9 534.1 L1160.8 536.2 L1161.7 532.7 L1162.7 528.3 L1163.6 528.1 L1164.5 529.6 L1165.4 532.1 L1166.3 535.7 L1167.3 539.8 L1168.2 544.5 L1169.1 549.0 L1170.0 553.7 L1170.9 557.6 L1171.8 561.8 L1172.8 565.5 L1173.7 568.1 L1174.6 570.0 L1175.5 569.0 L1176.4 567.1 L1177.4 568.0 L1178.3 570.3 L1179.2 572.3 L1180.1 575.1 L1181.0 576.6 L1182.0 576.9 L1182.9 576.3 L1183.8 575.7 L1184.7 575.0 L1185.6 573.9 L1186.6 572.7 L1187.5 571.6 L1188.4 569.6 L1189.3 568.0 L1190.2 568.9 L1191.1 570.1 L1192.1 571.1 L1193.0 572.4 L1193.9 573.7 L1194.8 574.1 L1195.7 574.6 L1196.7 574.7 L1197.6 574.8 L1198.5 574.2 L1199.4 573.5 L1200.3 572.4 L1201.3 571.7 L1202.2 570.4 L1203.1 568.3 L1204.0 566.1 L1204.9 564.3 L1205.9 562.2 L1206.8 558.6 L1207.7 555.0 L1208.6 551.0 L1209.5 549.3 L1210.5 550.0 L1211.4 549.7 L1212.3 549.0 L1213.2 548.6 L1214.1 548.7 L1215.0 550.4 L1216.0 552.7 L1216.9 555.9 L1217.8 559.1 L1218.7 563.7 L1219.6 569.1 L1220.6 575.4 L1221.5 582.0 L1222.4 581.2 L1223.3 579.3 L1224.2 577.3 L1225.2 574.8 L1226.1 572.0 L1227.0 568.5 L1227.9 565.5 L1228.8 569.3 L1229.8 571.2 L1230.7 570.8 L1231.6 570.1 L1232.5 569.0 L1233.4 568.3 L1234.3 568.1 L1235.3 568.1 L1236.2 568.1 L1237.1 568.0 L1238.0 568.8 L1238.9 569.2 L1239.9 569.5 L1240.8 569.8 L1241.7 570.3 L1242.6 570.8 L1243.5 571.6 L1244.5 572.1 L1245.4 569.9 L1246.3 567.5 L1247.2 565.9 L1248.1 564.9 L1249.1 563.7 L1250.0 563.4 L1250.9 567.8 L1251.8 576.4 L1252.7 579.7 L1253.7 578.0 L1254.6 576.9 L1255.5 575.3 L1256.4 574.6 L1257.3 574.1 L1258.2 573.8 L1259.2 573.9 L1260.1 574.6 L1261.0 574.6 L1261.9 573.5 L1262.8 573.0 L1263.8 572.8 L1264.7 573.0 L1265.6 573.2 L1266.5 573.1 L1267.4 572.8 L1268.4 573.0 L1269.3 572.6 L1270.2 572.5 L1271.1 572.6 L1272.0 573.3 L1273.0 574.1 L1273.9 574.6 L1274.8 575.8 L1275.7 577.0 L1276.6 582.9 L1277.5 584.7 L1278.5 583.7 L1279.4 583.0 L1280.3 582.5 L1281.2 582.6 L1282.1 582.7 L1283.1 582.2 L1284.0 582.6 L1284.9 581.9 L1285.8 581.8 L1286.7 581.4 L1287.7 580.9 L1288.6 581.5 L1289.5 581.6 L1290.4 582.4 L1291.3 583.5 L1292.3 584.8 L1293.2 585.3 L1294.1 585.2 L1295.0 585.6 L1295.9 586.6 L1296.8 586.8 L1297.8 587.6 L1298.7 587.6 L1299.6 587.9 L1300.5 588.1 L1301.4 589.1 L1302.4 590.5 L1303.3 591.4 L1304.2 593.2 L1305.1 594.9 L1306.0 596.8 L1307.0 598.6 L1307.9 600.7 L1308.8 603.0 L1309.7 604.3 L1310.6 606.0 L1311.6 606.9 L1312.5 608.9 L1313.4 611.3 L1314.3 612.8 L1315.2 616.1 L1316.2 619.6 L1317.1 624.8 L1318.0 630.2 L1318.9 631.6 L1319.8 630.4 L1320.7 629.3 L1321.7 627.2 L1322.6 626.1 L1323.5 624.7 L1324.4 623.6 L1325.3 623.8 L1326.3 624.1 L1327.2 625.5 L1328.1 627.5 L1329.0 628.8 L1329.9 628.9 L1330.9 629.5 L1331.8 631.2 L1332.7 634.4 L1333.6 637.6 L1334.5 642.2 L1335.5 643.0 L1336.4 639.1 L1337.3 636.2 L1338.2 635.2 L1339.1 634.7 L1340.0 632.0 L1341.0 628.6 L1341.9 624.7 L1342.8 608.0 L1343.7 593.1 L1344.6 577.6 L1345.6 564.8 L1346.5 546.2 L1347.4 539.8 L1348.3 541.2 L1349.2 550.6 L1350.2 553.1 L1351.1 556.3 L1352.0 560.0 L1352.9 564.2 L1353.8 569.2 L1354.8 573.9 L1355.7 577.6 L1356.6 580.2 L1357.5 582.5 L1358.4 585.4 L1359.4 588.3 L1360.3 591.6 L1361.2 592.5 L1362.1 592.1 L1363.0 590.0 L1363.9 586.1 L1364.9 584.9 L1365.8 585.4 L1366.7 587.2 L1367.6 589.8 L1368.5 593.3 L1369.5 596.6 L1370.4 598.3 L1371.3 599.8 L1372.2 600.7 L1373.1 601.1 L1374.1 604.9 L1375.0 608.8 L1375.9 612.0 L1376.8 614.6 L1377.7 617.4 L1378.7 617.5 L1379.6 616.6 L1380.5 615.9 L1381.4 615.8 L1382.3 616.0 L1383.2 616.4 L1384.2 617.5 L1385.1 617.6 L1386.0 617.9 L1386.9 619.0 L1387.8 620.4 L1388.8 620.9 L1389.7 620.5 L1390.6 620.2 L1391.5 617.4 L1392.4 611.8 L1393.4 607.1 L1394.3 596.3 L1395.2 587.4 L1396.1 579.2 L1397.0 574.5 L1398.0 573.4 L1398.9 573.8 L1399.8 573.5 L1400.7 572.9 L1401.6 571.9 L1402.5 566.5 L1403.5 556.3 L1404.4 545.1 L1405.3 535.1 L1406.2 527.4 L1407.1 522.2 L1408.1 518.0 L1409.0 517.9 L1409.9 521.1 L1410.8 532.7 L1411.7 545.9 L1412.7 555.5 L1413.6 563.4 L1414.5 571.9 L1415.4 575.2 L1416.3 573.4 L1417.3 567.1 L1418.2 558.7 L1419.1 541.4 L1420.0 525.8 L1420.9 507.5 L1421.9 490.4 L1422.8 491.8 L1423.7 494.2 L1424.6 499.9 L1425.5 506.3 L1426.4 516.6 L1427.4 522.7 L1428.3 526.3 L1429.2 528.4 L1430.1 528.7 L1431.0 527.6 L1432.0 526.1 L1432.9 524.3 L1433.8 522.3 L1434.7 521.9 L1435.6 521.9 L1436.6 522.3 L1437.5 524.6 L1438.4 528.0 L1439.3 532.4 L1440.2 537.9 L1441.2 539.3 L1442.1 537.8 L1443.0 535.6 L1443.9 533.0 L1444.8 532.1 L1445.7 531.6 L1446.7 533.3 L1447.6 530.0 L1448.5 522.7 L1449.4 515.0 L1450.3 504.6 L1451.3 494.6 L1452.2 492.0 L1453.1 492.8 L1454.0 489.5 L1454.9 485.6 L1455.9 478.7 L1456.8 475.4 L1457.7 476.3 L1458.6 478.0 L1459.5 483.6 L1460.5 487.6 L1461.4 491.6 L1462.3 494.2 L1463.2 490.0 L1464.1 483.2 L1465.1 484.2 L1466.0 487.7 L1466.9 488.6 L1467.8 489.0 L1468.7 488.5 L1469.6 487.3 L1470.6 485.8 L1471.5 488.9 L1472.4 494.0 L1473.3 492.6 L1474.2 487.8 L1475.2 468.8 L1476.1 456.6 L1477.0 448.3 L1477.9 446.2 L1478.8 447.4 L1479.8 453.1 L1480.7 461.4 L1481.6 467.4 L1482.5 471.7 L1483.4 479.3 L1484.4 490.7 L1485.3 499.9 L1486.2 508.8 L1487.1 514.2 L1488.0 516.4 L1488.9 522.5 L1489.9 525.1 L1490.8 524.8 L1491.7 523.4 L1492.6 521.3 L1493.5 518.7 L1494.5 517.0 L1495.4 515.7 L1496.3 514.6 L1497.2 513.5 L1498.1 512.5 L1499.1 511.0 L1500.0 509.7 L1500.9 508.2 L1501.8 506.1 L1502.7 504.5 L1503.7 505.1 L1504.6 507.7 L1505.5 511.2 L1506.4 513.9 L1507.3 515.5 L1508.3 516.7 L1509.2 517.2 L1510.1 516.3 L1511.0 516.1 L1511.9 515.2 L1512.8 511.7 L1513.8 506.0 L1514.7 499.7 L1515.6 491.7 L1516.5 487.4 L1517.4 485.5 L1518.4 482.4 L1519.3 480.6 L1520.2 482.9 L1521.1 484.7 L1522.0 486.0 L1523.0 487.6 L1523.9 488.8 L1524.8 491.9 L1525.7 494.4 L1526.6 497.5 L1527.6 500.5 L1528.5 501.5 L1529.4 502.1 L1530.3 503.8 L1531.2 505.7 L1532.1 507.5 L1533.1 509.7 L1534.0 510.6 L1534.9 510.8 L1535.8 512.2 L1536.7 513.1 L1537.7 512.1 L1538.6 509.5 L1539.5 508.2 L1540.4 507.1 L1541.3 506.9 L1542.3 499.7 L1543.2 497.1 L1544.1 497.5 L1545.0 498.0 L1545.9 499.2 L1546.9 499.2 L1547.8 499.8 L1548.7 499.9 L1549.6 499.7 L1550.5 499.7 L1551.4 500.1 L1552.4 500.9 L1553.3 501.3 L1554.2 500.2 L1555.1 498.4 L1556.0 496.3 L1557.0 491.6 L1557.9 491.7 L1558.8 492.7 L1559.7 494.2 L1560.6 495.9 L1561.6 502.6" stroke="#3498db" stroke-opacity="0.7" stroke-width="2.6"/>
<path d="M150.7 701.9 L151.6 702.0 L152.5 702.1 L153.4 702.3 L154.4 702.9 L155.3 703.7 L156.2 704.1 L157.1 704.2 L158.0 704.2 L159.0 704.0 L159.9 703.7 L160.8 703.6 L161.7 703.5 L162.6 703.3 L163.6 703.2 L164.5 703.1 L165.4 703.0 L166.3 703.1 L167.2 703.5 L168.2 704.1 L169.1 704.9 L170.0 705.9 L170.9 707.1 L171.8 708.3 L172.7 709.5 L173.7 709.1 L174.6 707.6 L175.5 706.4 L176.4 705.5 L177.3 704.6 L178.3 703.7 L179.2 703.1 L180.1 702.6 L181.0 702.3 L181.9 702.2 L182.9 702.0 L183.8 702.2 L184.7 702.4 L185.6 703.1 L186.5 703.9 L187.5 705.0 L188.4 706.8 L189.3 708.7 L190.2 710.1 L191.1 711.3 L192.1 712.0 L193.0 712.6 L193.9 713.0 L194.8 713.3 L195.7 713.6 L196.6 714.2 L197.6 714.9 L198.5 716.6 L199.4 719.1 L200.3 721.8 L201.2 726.0 L202.2 729.9 L203.1 733.6 L204.0 736.3 L204.9 739.9 L205.8 742.2 L206.8 742.8 L207.7 743.0 L208.6 742.8 L209.5 742.5 L210.4 742.1 L211.4 741.5 L212.3 740.5 L213.2 739.3 L214.1 738.1 L215.0 736.5 L215.9 734.6 L216.9 732.9 L217.8 731.7 L218.7 730.4 L219.6 729.1 L220.5 727.7 L221.5 726.5 L222.4 725.4 L223.3 724.6 L224.2 723.7 L225.1 722.9 L226.1 722.0 L227.0 720.8 L227.9 719.4 L228.8 717.8 L229.7 715.0 L230.7 712.1 L231.6 709.0 L232.5 706.0 L233.4 702.9 L234.3 699.9 L235.3 697.2 L236.2 695.2 L237.1 693.6 L238.0 692.6 L238.9 691.9 L239.8 691.4 L240.8 691.0 L241.7 691.0 L242.6 691.0 L243.5 691.1 L244.4 691.1 L245.4 691.3 L246.3 691.5 L247.2 691.6 L248.1 691.4 L249.0 691.1 L250.0 690.7 L250.9 689.9 L251.8 688.7 L252.7 687.6 L253.6 686.6 L254.6 685.9 L255.5 685.3 L256.4 685.0 L257.3 685.0 L258.2 685.4 L259.1 686.5 L260.1 688.2 L261.0 688.5 L261.9 688.9 L262.8 689.2 L263.7 689.8 L264.7 690.5 L265.6 691.4 L266.5 692.4 L267.4 693.5 L268.3 694.9 L269.3 696.5 L270.2 697.7 L271.1 698.5 L272.0 699.3 L272.9 699.6 L273.9 699.9 L274.8 700.0 L275.7 699.7 L276.6 699.3 L277.5 698.6 L278.4 697.6 L279.4 696.4 L280.3 695.1 L281.2 694.0 L282.1 693.1 L283.0 692.2 L284.0 692.0 L284.9 691.9 L285.8 691.7 L286.7 691.5 L287.6 691.4 L288.6 691.5 L289.5 691.5 L290.4 691.4 L291.3 691.2 L292.2 690.5 L293.2 689.6 L294.1 686.9 L295.0 684.2 L295.9 681.4 L296.8 678.5 L297.8 675.6 L298.7 673.2 L299.6 671.4 L300.5 669.8 L301.4 668.8 L302.3 668.0 L303.3 667.4 L304.2 667.1 L305.1 667.0 L306.0 667.2 L306.9 667.5 L307.9 667.9 L308.8 668.4 L309.7 669.0 L310.6 669.8 L311.5 670.4 L312.5 670.9 L313.4 671.4 L314.3 671.9 L315.2 672.1 L316.1 672.5 L317.1 673.0 L318.0 673.4 L318.9 673.9 L319.8 674.5 L320.7 675.0 L321.6 675.6 L322.6 676.4 L323.5 677.1 L324.4 678.2 L325.3 679.6 L326.2 680.7 L327.2 681.6 L328.1 682.3 L329.0 682.9 L329.9 683.3 L330.8 683.8 L331.8 684.2 L332.7 684.5 L333.6 684.6 L334.5 684.8 L335.4 684.9 L336.4 685.0 L337.3 685.0 L338.2 685.3 L339.1 685.6 L340.0 685.9 L341.0 686.1 L341.9 686.2 L342.8 686.2 L343.7 686.1 L344.6 686.0 L345.5 685.7 L346.5 685.3 L347.4 685.1 L348.3 684.9 L349.2 684.9 L350.1 684.9 L351.1 684.7 L352.0 684.2 L352.9 683.6 L353.8 682.7 L354.7 681.4 L355.7 680.0 L356.6 678.1 L357.5 676.0 L358.4 674.0 L359.3 672.7 L360.3 671.1 L361.2 669.0 L362.1 667.1 L363.0 665.0 L363.9 662.8 L364.8 659.6 L365.8 657.1 L366.7 654.8 L367.6 653.0 L368.5 651.4 L369.4 649.6 L370.4 647.4 L371.3 645.1 L372.2 642.8 L373.1 640.0 L374.0 638.0 L375.0 636.5 L375.9 635.2 L376.8 633.8 L377.7 632.4 L378.6 630.8 L379.6 629.5 L380.5 628.6 L381.4 627.8 L382.3 627.2 L383.2 626.8 L384.2 626.4 L385.1 626.3 L386.0 625.9 L386.9 625.3 L387.8 624.8 L388.7 624.0 L389.7 623.0 L390.6 622.1 L391.5 621.0 L392.4 619.3 L393.3 616.5 L394.3 612.5 L395.2 605.8 L396.1 600.0 L397.0 595.3 L397.9 590.6 L398.9 585.7 L399.8 582.2 L400.7 580.1 L401.6 577.7 L402.5 575.0 L403.5 572.2 L404.4 570.1 L405.3 568.1 L406.2 566.7 L407.1 566.1 L408.0 566.7 L409.0 567.6 L409.9 568.9 L410.8 569.5 L411.7 569.5 L412.6 569.0 L413.6 567.5 L414.5 565.3 L415.4 562.3 L416.3 558.1 L417.2 554.0 L418.2 549.3 L419.1 544.3 L420.0 539.0 L420.9 533.5 L421.8 528.0 L422.8 522.8 L423.7 519.3 L424.6 516.8 L425.5 515.2 L426.4 514.3 L427.3 514.1 L428.3 514.9 L429.2 515.8 L430.1 516.7 L431.0 517.6 L431.9 518.1 L432.9 518.3 L433.8 518.2 L434.7 519.3 L435.6 521.0 L436.5 521.9 L437.5 521.9 L438.4 521.2 L439.3 519.7 L440.2 517.4 L441.1 514.2 L442.1 510.4 L443.0 507.1 L443.9 504.3 L444.8 502.7 L445.7 500.9 L446.7 499.2 L447.6 497.2 L448.5 494.6 L449.4 491.2 L450.3 487.7 L451.2 482.9 L452.2 476.7 L453.1 469.1 L454.0 460.1 L454.9 447.8 L455.8 436.8 L456.8 426.9 L457.7 418.3 L458.6 411.9 L459.5 408.6 L460.4 406.1 L461.4 404.5 L462.3 403.3 L463.2 397.8 L464.1 392.5 L465.0 387.6 L466.0 382.8 L466.9 377.8 L467.8 374.3 L468.7 371.8 L469.6 370.8 L470.5 370.0 L471.5 369.1 L472.4 368.3 L473.3 365.5 L474.2 362.7 L475.1 359.8 L476.1 357.8 L477.0 357.2 L477.9 358.9 L478.8 359.6 L479.7 359.6 L480.7 360.7 L481.6 361.5 L482.5 362.1 L483.4 362.3 L484.3 362.0 L485.3 361.1 L486.2 360.0 L487.1 358.7 L488.0 357.0 L488.9 355.2 L489.9 351.9 L490.8 348.1 L491.7 342.6 L492.6 335.5 L493.5 326.5 L494.4 316.2 L495.4 307.2 L496.3 299.3 L497.2 288.7 L498.1 278.1 L499.0 266.3 L500.0 253.4 L500.9 245.6 L501.8 239.1 L502.7 233.9 L503.6 228.2 L504.6 223.1 L505.5 218.9 L506.4 214.6 L507.3 210.1 L508.2 205.7 L509.2 200.8 L510.1 195.6 L511.0 190.5 L511.9 185.7 L512.8 181.1 L513.7 176.6 L514.7 172.2 L515.6 167.4 L516.5 162.6 L517.4 157.2 L518.3 151.4 L519.3 146.9 L520.2 143.3 L521.1 141.2 L522.0 140.5 L522.9 140.0 L523.9 139.9 L524.8 139.8 L525.7 139.8 L526.6 139.8 L527.5 140.4 L528.5 141.5 L529.4 144.6 L530.3 146.1 L531.2 149.3 L532.1 151.7 L533.0 152.3 L534.0 153.6 L534.9 155.5 L535.8 156.1 L536.7 156.2 L537.6 155.2 L538.6 154.4 L539.5 154.4 L540.4 155.3 L541.3 156.7 L542.2 159.4 L543.2 164.5 L544.1 169.3 L545.0 173.7 L545.9 176.6 L546.8 178.4 L547.8 180.2 L548.7 181.7 L549.6 183.0 L550.5 184.0 L551.4 185.3 L552.4 187.1 L553.3 189.3 L554.2 191.7 L555.1 194.4 L556.0 196.9 L556.9 199.6 L557.9 202.2 L558.8 204.8 L559.7 207.6 L560.6 210.4 L561.5 213.2 L562.5 216.2 L563.4 219.2 L564.3 222.4 L565.2 225.1 L566.1 227.3 L567.1 229.0 L568.0 233.3 L568.9 236.9 L569.8 239.6 L570.7 245.7 L571.7 251.9 L572.6 257.8 L573.5 263.6 L574.4 269.4 L575.3 274.5 L576.2 278.8 L577.2 281.8 L578.1 282.9 L579.0 283.0 L579.9 283.4 L580.8 283.7 L581.8 284.2 L582.7 284.8 L583.6 284.9 L584.5 284.6 L585.4 284.7 L586.4 285.6 L587.3 286.3 L588.2 286.9 L589.1 287.6 L590.0 288.3 L591.0 289.2 L591.9 289.7 L592.8 289.7 L593.7 290.2 L594.6 291.2 L595.6 292.9 L596.5 295.0 L597.4 297.9 L598.3 299.3 L599.2 299.3 L600.1 299.7 L601.1 300.4 L602.0 301.3 L602.9 302.5 L603.8 303.6 L604.7 304.8 L605.7 304.7 L606.6 303.8 L607.5 304.9 L608.4 306.5 L609.3 309.4 L610.3 311.8 L611.2 312.9 L612.1 313.5 L613.0 313.5 L613.9 313.5 L614.9 313.3 L615.8 312.8 L616.7 312.3 L617.6 312.0 L618.5 312.0 L619.4 312.3 L620.4 315.4 L621.3 318.6 L622.2 322.0 L623.1 325.2 L624.0 329.3 L625.0 333.9 L625.9 338.2 L626.8 342.4 L627.7 346.7 L628.6 349.6 L629.6 351.9 L630.5 354.1 L631.4 356.4 L632.3 357.2 L633.2 359.5 L634.2 362.8 L635.1 365.2 L636.0 366.8 L636.9 368.1 L637.8 369.3 L638.8 370.5 L639.7 371.8 L640.6 373.1 L641.5 374.4 L642.4 375.9 L643.3 377.4 L644.3 379.6 L645.2 381.9 L646.1 384.8 L647.0 388.3 L647.9 390.8 L648.9 392.4 L649.8 393.8 L650.7 394.8 L651.6 395.5 L652.5 396.0 L653.5 396.2 L654.4 396.3 L655.3 396.4 L656.2 396.6 L657.1 396.9 L658.1 396.5 L659.0 396.8 L659.9 398.8 L660.8 400.3 L661.7 401.2 L662.6 401.7 L663.6 401.9 L664.5 402.0 L665.4 401.8 L666.3 403.1 L667.2 404.3 L668.2 405.1 L669.1 405.5 L670.0 406.0 L670.9 406.3 L671.8 406.8 L672.8 407.3 L673.7 407.7 L674.6 408.0 L675.5 408.4 L676.4 408.7 L677.4 409.0 L678.3 409.0 L679.2 408.8 L680.1 408.3 L681.0 407.7 L681.9 407.0 L682.9 405.9 L683.8 404.8 L684.7 403.6 L685.6 402.4 L686.5 400.9 L687.5 399.5 L688.4 398.1 L689.3 396.7 L690.2 395.4 L691.1 394.4 L692.1 393.2 L693.0 392.8 L693.9 393.2 L694.8 393.8 L695.7 394.2 L696.7 394.7 L697.6 395.4 L698.5 396.4 L699.4 397.4 L700.3 398.4 L701.3 399.7 L702.2 401.4 L703.1 403.2 L704.0 405.0 L704.9 407.2 L705.8 409.3 L706.8 411.8 L707.7 414.2 L708.6 416.2 L709.5 418.0 L710.4 419.5 L711.4 421.3 L712.3 423.3 L713.2 425.6 L714.1 428.1 L715.0 430.7 L716.0 433.3 L716.9 435.9 L717.8 437.6 L718.7 438.3 L719.6 438.4 L720.6 437.4 L721.5 436.1 L722.4 434.6 L723.3 433.1 L724.2 431.5 L725.1 430.0 L726.1 428.3 L727.0 426.5 L727.9 424.8 L728.8 423.4 L729.7 422.0 L730.7 420.6 L731.6 419.5 L732.5 418.8 L733.4 418.2 L734.3 416.7 L735.3 414.3 L736.2 411.5 L737.1 409.9 L738.0 409.1 L738.9 409.5 L739.9 410.4 L740.8 412.4 L741.7 414.8 L742.6 419.3 L743.5 424.4 L744.5 430.4 L745.4 434.6 L746.3 437.4 L747.2 440.4 L748.1 443.8 L749.0 447.1 L750.0 450.6 L750.9 454.0 L751.8 456.9 L752.7 458.9 L753.6 460.9 L754.6 462.9 L755.5 464.9 L756.4 467.1 L757.3 469.4 L758.2 471.8 L759.2 473.6 L760.1 475.3 L761.0 476.5 L761.9 477.5 L762.8 478.1 L763.8 478.3 L764.7 478.3 L765.6 478.4 L766.5 478.3 L767.4 478.1 L768.3 477.8 L769.3 476.3 L770.2 475.2 L771.1 474.4 L772.0 473.6 L772.9 472.7 L773.9 471.9 L774.8 471.5 L775.7 471.2 L776.6 470.5 L777.5 469.8 L778.5 469.1 L779.4 467.3 L780.3 464.6 L781.2 461.2 L782.1 457.2 L783.1 454.4 L784.0 452.4 L784.9 450.8 L785.8 449.5 L786.7 448.3 L787.6 447.3 L788.6 446.6 L789.5 446.3 L790.4 446.4 L791.3 446.8 L792.2 447.6 L793.2 449.1 L794.1 451.2 L795.0 453.0 L795.9 454.3 L796.8 455.4 L797.8 456.7 L798.7 458.0 L799.6 459.3 L800.5 460.5 L801.4 461.6 L802.4 462.6 L803.3 465.1 L804.2 467.9 L805.1 471.8 L806.0 475.8 L807.0 480.3 L807.9 484.9 L808.8 489.8 L809.7 494.1 L810.6 497.9 L811.5 501.3 L812.5 504.7 L813.4 508.1 L814.3 511.0 L815.2 513.8 L816.1 516.1 L817.1 519.0 L818.0 522.3 L818.9 525.0 L819.8 527.0 L820.7 528.6 L821.7 532.7 L822.6 537.1 L823.5 542.2 L824.4 547.0 L825.3 551.9 L826.3 556.1 L827.2 559.6 L828.1 562.9 L829.0 566.0 L829.9 569.1 L830.8 573.1 L831.8 577.4 L832.7 580.1 L833.6 582.3 L834.5 584.1 L835.4 585.7 L836.4 586.9 L837.3 587.6 L838.2 587.9 L839.1 587.6 L840.0 586.6 L841.0 586.1 L841.9 585.6 L842.8 585.5 L843.7 586.1 L844.6 587.4 L845.6 588.8 L846.5 590.2 L847.4 591.7 L848.3 592.4 L849.2 592.5 L850.2 592.1 L851.1 591.0 L852.0 590.3 L852.9 590.0 L853.8 590.0 L854.7 590.2 L855.7 591.6 L856.6 592.7 L857.5 593.5 L858.4 594.5 L859.3 596.1 L860.3 597.8 L861.2 599.5 L862.1 601.4 L863.0 603.4 L863.9 605.2 L864.9 606.7 L865.8 607.9 L866.7 608.5 L867.6 608.6 L868.5 609.5 L869.5 610.7 L870.4 612.2 L871.3 614.7 L872.2 616.3 L873.1 616.8 L874.0 616.9 L875.0 616.7 L875.9 615.3 L876.8 613.7 L877.7 611.8 L878.6 609.5 L879.6 606.9 L880.5 604.3 L881.4 601.6 L882.3 599.0 L883.2 596.6 L884.2 594.2 L885.1 592.2 L886.0 589.9 L886.9 587.5 L887.8 585.3 L888.8 582.4 L889.7 579.5 L890.6 576.7 L891.5 574.1 L892.4 571.7 L893.3 567.8 L894.3 563.4 L895.2 558.1 L896.1 552.0 L897.0 546.0 L897.9 540.4 L898.9 534.7 L899.8 527.8 L900.7 519.7 L901.6 512.4 L902.5 505.6 L903.5 496.7 L904.4 488.6 L905.3 481.0 L906.2 473.8 L907.1 467.0 L908.1 460.9 L909.0 455.1 L909.9 449.5 L910.8 445.1 L911.7 441.0 L912.7 437.4 L913.6 435.5 L914.5 435.0 L915.4 434.2 L916.3 432.7 L917.2 431.3 L918.2 430.2 L919.1 428.4 L920.0 426.3 L920.9 424.5 L921.8 421.9 L922.8 418.1 L923.7 412.3 L924.6 406.9 L925.5 402.0 L926.4 397.3 L927.4 393.1 L928.3 390.0 L929.2 386.3 L930.1 381.0 L931.0 375.0 L932.0 368.3 L932.9 359.9 L933.8 352.4 L934.7 348.3 L935.6 346.7 L936.5 343.4 L937.5 340.3 L938.4 337.2 L939.3 334.4 L940.2 331.3 L941.1 327.8 L942.1 326.5 L943.0 330.8 L943.9 340.6 L944.8 352.8 L945.7 369.0 L946.7 386.5 L947.6 400.0 L948.5 411.5 L949.4 421.5 L950.3 430.5 L951.3 438.7 L952.2 445.1 L953.1 450.2 L954.0 450.5 L954.9 453.5 L955.9 456.3 L956.8 458.7 L957.7 460.8 L958.6 462.7 L959.5 464.2 L960.4 465.3 L961.4 466.1 L962.3 466.6 L963.2 467.1 L964.1 467.3 L965.0 468.8 L966.0 471.2 L966.9 473.7 L967.8 476.3 L968.7 479.3 L969.6 482.9 L970.6 485.8 L971.5 487.9 L972.4 489.8 L973.3 491.4 L974.2 492.8 L975.2 494.3 L976.1 495.8 L977.0 497.5 L977.9 499.8 L978.8 502.5 L979.7 505.5 L980.7 508.6 L981.6 511.4 L982.5 513.8 L983.4 516.3 L984.3 519.4 L985.3 522.3 L986.2 525.2 L987.1 527.9 L988.0 529.6 L988.9 530.7 L989.9 532.0 L990.8 533.5 L991.7 534.1 L992.6 532.8 L993.5 529.9 L994.5 528.1 L995.4 527.0 L996.3 526.9 L997.2 527.1 L998.1 527.4 L999.1 528.1 L1000.0 529.3 L1000.9 530.6 L1001.8 532.3 L1002.7 534.5 L1003.6 536.9 L1004.6 540.0 L1005.5 543.4 L1006.4 545.3 L1007.3 546.8 L1008.2 547.8 L1009.2 548.6 L1010.1 549.2 L1011.0 549.2 L1011.9 549.0 L1012.8 548.1 L1013.8 546.4 L1014.7 543.9 L1015.6 541.3 L1016.5 538.7 L1017.4 536.7 L1018.4 535.3 L1019.3 534.2 L1020.2 533.2 L1021.1 532.4 L1022.0 531.1 L1022.9 529.1 L1023.9 526.6 L1024.8 523.3 L1025.7 520.4 L1026.6 517.8 L1027.5 515.6 L1028.5 513.1 L1029.4 510.6 L1030.3 507.8 L1031.2 504.2 L1032.1 501.1 L1033.1 498.5 L1034.0 496.0 L1034.9 493.1 L1035.8 489.7 L1036.7 486.4 L1037.7 483.0 L1038.6 480.2 L1039.5 477.8 L1040.4 476.0 L1041.3 474.0 L1042.2 471.8 L1043.2 471.0 L1044.1 470.8 L1045.0 472.6 L1045.9 475.1 L1046.8 478.2 L1047.8 481.2 L1048.7 484.0 L1049.6 487.2 L1050.5 490.3 L1051.4 493.7 L1052.4 495.0 L1053.3 495.7 L1054.2 495.8 L1055.1 495.7 L1056.0 495.8 L1057.0 495.7 L1057.9 495.7 L1058.8 496.0 L1059.7 495.8 L1060.6 495.3 L1061.6 494.9 L1062.5 495.1 L1063.4 496.4 L1064.3 497.4 L1065.2 497.9 L1066.1 498.2 L1067.1 498.6 L1068.0 499.3 L1068.9 499.9 L1069.8 500.1 L1070.7 499.7 L1071.7 499.0 L1072.6 498.5 L1073.5 498.0 L1074.4 497.6 L1075.3 497.8 L1076.3 497.9 L1077.2 498.2 L1078.1 498.3 L1079.0 498.5 L1079.9 496.3 L1080.9 494.3 L1081.8 491.9 L1082.7 489.2 L1083.6 486.3 L1084.5 483.1 L1085.4 480.7 L1086.4 479.0 L1087.3 478.0 L1088.2 477.3 L1089.1 477.0 L1090.0 476.9 L1091.0 476.9 L1091.9 477.1 L1092.8 477.6 L1093.7 478.0 L1094.6 478.6 L1095.6 478.9 L1096.5 479.0 L1097.4 479.0 L1098.3 478.7 L1099.2 478.9 L1100.2 479.4 L1101.1 479.6 L1102.0 479.3 L1102.9 479.0 L1103.8 479.4 L1104.8 480.1 L1105.7 480.8 L1106.6 481.7 L1107.5 482.9 L1108.4 484.4 L1109.3 485.9 L1110.3 487.0 L1111.2 488.3 L1112.1 490.0 L1113.0 492.0 L1113.9 493.9 L1114.9 495.8 L1115.8 496.7 L1116.7 497.0 L1117.6 498.0 L1118.5 499.2 L1119.5 501.0 L1120.4 503.4 L1121.3 505.9 L1122.2 508.7 L1123.1 511.6 L1124.1 514.6 L1125.0 517.6 L1125.9 520.3 L1126.8 522.1 L1127.7 523.6 L1128.6 523.9 L1129.6 523.1 L1130.5 522.5 L1131.4 522.2 L1132.3 522.8 L1133.2 523.9 L1134.2 524.8 L1135.1 525.6 L1136.0 526.0 L1136.9 526.2 L1137.8 526.6 L1138.8 527.3 L1139.7 528.0 L1140.6 528.6 L1141.5 528.9 L1142.4 529.3 L1143.4 529.7 L1144.3 530.2 L1145.2 530.7 L1146.1 531.6 L1147.0 532.7 L1147.9 533.7 L1148.9 534.1 L1149.8 534.5 L1150.7 534.4 L1151.6 534.3 L1152.5 532.5 L1153.5 531.1 L1154.4 530.2 L1155.3 529.7 L1156.2 529.5 L1157.1 529.7 L1158.1 530.1 L1159.0 530.5 L1159.9 531.2 L1160.8 531.9 L1161.7 531.4 L1162.7 530.5 L1163.6 530.3 L1164.5 530.5 L1165.4 531.0 L1166.3 531.9 L1167.3 533.2 L1168.2 534.7 L1169.1 536.5 L1170.0 538.6 L1170.9 540.6 L1171.8 542.9 L1172.8 545.2 L1173.7 547.4 L1174.6 549.4 L1175.5 550.8 L1176.4 551.7 L1177.4 553.1 L1178.3 554.8 L1179.2 556.4 L1180.1 558.3 L1181.0 560.0 L1182.0 561.3 L1182.9 562.4 L1183.8 563.3 L1184.7 564.1 L1185.6 564.7 L1186.6 565.1 L1187.5 565.4 L1188.4 565.4 L1189.3 565.4 L1190.2 565.8 L1191.1 566.3 L1192.1 566.8 L1193.0 567.5 L1193.9 568.1 L1194.8 568.7 L1195.7 569.2 L1196.7 569.6 L1197.6 570.1 L1198.5 570.3 L1199.4 570.4 L1200.3 570.4 L1201.3 570.4 L1202.2 570.2 L1203.1 569.7 L1204.0 569.1 L1204.9 568.5 L1205.9 567.7 L1206.8 566.4 L1207.7 565.0 L1208.6 563.3 L1209.5 561.9 L1210.5 561.1 L1211.4 560.2 L1212.3 559.2 L1213.2 558.4 L1214.1 557.6 L1215.0 557.3 L1216.0 557.3 L1216.9 557.7 L1217.8 558.3 L1218.7 559.4 L1219.6 561.0 L1220.6 563.1 L1221.5 565.5 L1222.4 566.6 L1223.3 567.3 L1224.2 567.8 L1225.2 567.9 L1226.1 567.8 L1227.0 567.3 L1227.9 566.7 L1228.8 567.5 L1229.8 568.1 L1230.7 568.2 L1231.6 568.3 L1232.5 568.1 L1233.4 568.1 L1234.3 568.0 L1235.3 568.0 L1236.2 568.0 L1237.1 568.0 L1238.0 568.2 L1238.9 568.3 L1239.9 568.5 L1240.8 568.6 L1241.7 568.8 L1242.6 569.0 L1243.5 569.4 L1244.5 569.7 L1245.4 569.3 L1246.3 568.8 L1247.2 568.4 L1248.1 567.9 L1249.1 567.4 L1250.0 567.1 L1250.9 567.8 L1251.8 569.8 L1252.7 571.1 L1253.7 571.3 L1254.6 571.6 L1255.5 571.6 L1256.4 571.7 L1257.3 571.9 L1258.2 572.0 L1259.2 572.1 L1260.1 572.4 L1261.0 572.6 L1261.9 572.5 L1262.8 572.4 L1263.8 572.4 L1264.7 572.5 L1265.6 572.6 L1266.5 572.6 L1267.4 572.6 L1268.4 572.6 L1269.3 572.6 L1270.2 572.6 L1271.1 572.6 L1272.0 572.7 L1273.0 573.0 L1273.9 573.2 L1274.8 573.6 L1275.7 574.0 L1276.6 575.6 L1277.5 576.6 L1278.5 577.0 L1279.4 577.3 L1280.3 577.6 L1281.2 578.0 L1282.1 578.4 L1283.1 578.6 L1284.0 579.0 L1284.9 579.1 L1285.8 579.3 L1286.7 579.4 L1287.7 579.4 L1288.6 579.7 L1289.5 579.9 L1290.4 580.2 L1291.3 580.6 L1292.3 581.1 L1293.2 581.5 L1294.1 581.8 L1295.0 582.1 L1295.9 582.6 L1296.8 583.0 L1297.8 583.5 L1298.7 583.8 L1299.6 584.1 L1300.5 584.5 L1301.4 585.0 L1302.4 585.6 L1303.3 586.2 L1304.2 587.0 L1305.1 587.9 L1306.0 588.9 L1307.0 589.9 L1307.9 591.1 L1308.8 592.3 L1309.7 593.4 L1310.6 594.7 L1311.6 595.8 L1312.5 597.1 L1313.4 598.5 L1314.3 599.9 L1315.2 601.6 L1316.2 603.6 L1317.1 606.0 L1318.0 608.7 L1318.9 610.7 L1319.8 612.0 L1320.7 613.2 L1321.7 613.9 L1322.6 614.7 L1323.5 615.2 L1324.4 615.7 L1325.3 616.4 L1326.3 617.0 L1327.2 617.9 L1328.1 618.9 L1329.0 619.9 L1329.9 620.6 L1330.9 621.4 L1331.8 622.4 L1332.7 623.8 L1333.6 625.3 L1334.5 627.4 L1335.5 628.7 L1336.4 628.9 L1337.3 629.0 L1338.2 629.3 L1339.1 629.7 L1340.0 629.4 L1341.0 628.8 L1341.9 627.9 L1342.8 623.8 L1343.7 619.2 L1344.6 613.6 L1345.6 607.9 L1346.5 600.2 L1347.4 594.6 L1348.3 590.7 L1349.2 589.1 L1350.2 586.7 L1351.1 584.9 L1352.0 583.5 L1352.9 582.7 L1353.8 582.4 L1354.8 582.5 L1355.7 582.7 L1356.6 582.9 L1357.5 583.2 L1358.4 583.8 L1359.4 584.6 L1360.3 585.6 L1361.2 586.3 L1362.1 586.7 L1363.0 586.6 L1363.9 586.0 L1364.9 585.7 L1365.8 585.8 L1366.7 586.1 L1367.6 586.8 L1368.5 587.9 L1369.5 589.0 L1370.4 590.0 L1371.3 591.0 L1372.2 591.9 L1373.1 592.7 L1374.1 594.2 L1375.0 595.9 L1375.9 597.6 L1376.8 599.3 L1377.7 601.2 L1378.7 602.5 L1379.6 603.4 L1380.5 604.3 L1381.4 605.1 L1382.3 606.0 L1383.2 606.8 L1384.2 607.8 L1385.1 608.6 L1386.0 609.4 L1386.9 610.3 L1387.8 611.3 L1388.8 612.1 L1389.7 612.7 L1390.6 613.2 L1391.5 613.1 L1392.4 612.1 L1393.4 611.0 L1394.3 608.2 L1395.2 605.3 L1396.1 602.0 L1397.0 599.2 L1398.0 597.0 L1398.9 595.3 L1399.8 593.6 L1400.7 591.9 L1401.6 590.2 L1402.5 587.5 L1403.5 583.6 L1404.4 578.9 L1405.3 574.0 L1406.2 569.2 L1407.1 564.8 L1408.1 560.5 L1409.0 557.3 L1409.9 555.0 L1410.8 555.0 L1411.7 556.4 L1412.7 557.8 L1413.6 559.4 L1414.5 561.7 L1415.4 563.2 L1416.3 563.7 L1417.3 563.0 L1418.2 561.4 L1419.1 557.2 L1420.0 552.4 L1420.9 546.1 L1421.9 539.2 L1422.8 535.8 L1423.7 533.0 L1424.6 531.3 L1425.5 530.3 L1426.4 530.9 L1427.4 531.2 L1428.3 531.4 L1429.2 531.5 L1430.1 531.3 L1431.0 530.8 L1432.0 530.3 L1432.9 529.5 L1433.8 528.7 L1434.7 528.1 L1435.6 527.6 L1436.6 527.2 L1437.5 527.4 L1438.4 528.0 L1439.3 529.0 L1440.2 530.5 L1441.2 531.4 L1442.1 531.7 L1443.0 531.7 L1443.9 531.4 L1444.8 531.3 L1445.7 531.2 L1446.7 531.6 L1447.6 531.0 L1448.5 529.3 L1449.4 527.0 L1450.3 523.6 L1451.3 519.9 L1452.2 517.3 L1453.1 515.6 L1454.0 513.0 L1454.9 510.3 L1455.9 506.8 L1456.8 503.9 L1457.7 501.9 L1458.6 500.4 L1459.5 499.9 L1460.5 499.6 L1461.4 499.6 L1462.3 499.6 L1463.2 498.2 L1464.1 496.0 L1465.1 495.2 L1466.0 495.2 L1466.9 494.8 L1467.8 494.4 L1468.7 493.9 L1469.6 493.2 L1470.6 492.4 L1471.5 492.6 L1472.4 493.5 L1473.3 493.2 L1474.2 492.1 L1475.2 487.3 L1476.1 483.1 L1477.0 479.2 L1477.9 476.3 L1478.8 474.3 L1479.8 473.5 L1480.7 473.9 L1481.6 474.3 L1482.5 474.7 L1483.4 476.3 L1484.4 479.1 L1485.3 482.1 L1486.2 485.6 L1487.1 488.6 L1488.0 491.1 L1488.9 494.4 L1489.9 497.2 L1490.8 499.3 L1491.7 500.9 L1492.6 502.1 L1493.5 503.0 L1494.5 503.8 L1495.4 504.6 L1496.3 505.2 L1497.2 505.6 L1498.1 506.0 L1499.1 506.2 L1500.0 506.2 L1500.9 506.2 L1501.8 505.8 L1502.7 505.5 L1503.7 505.6 L1504.6 506.1 L1505.5 507.1 L1506.4 508.0 L1507.3 508.8 L1508.3 509.6 L1509.2 510.3 L1510.1 510.6 L1511.0 511.0 L1511.9 511.2 L1512.8 510.7 L1513.8 509.4 L1514.7 507.7 L1515.6 505.3 L1516.5 503.2 L1517.4 501.6 L1518.4 499.6 L1519.3 497.9 L1520.2 497.1 L1521.1 496.4 L1522.0 495.8 L1523.0 495.4 L1523.9 495.1 L1524.8 495.3 L1525.7 495.6 L1526.6 496.3 L1527.6 497.0 L1528.5 497.5 L1529.4 498.0 L1530.3 498.7 L1531.2 499.5 L1532.1 500.4 L1533.1 501.5 L1534.0 502.3 L1534.9 503.0 L1535.8 503.9 L1536.7 504.8 L1537.7 505.2 L1538.6 505.1 L1539.5 505.2 L1540.4 505.1 L1541.3 505.2 L1542.3 503.7 L1543.2 502.8 L1544.1 502.4 L1545.0 502.2 L1545.9 502.1 L1546.9 501.9 L1547.8 501.8 L1548.7 501.7 L1549.6 501.5 L1550.5 501.4 L1551.4 501.4 L1552.4 501.4 L1553.3 501.5 L1554.2 501.2 L1555.1 500.7 L1556.0 500.1 L1557.0 498.7 L1557.9 498.2 L1558.8 497.9 L1559.7 497.8 L1560.6 498.0 L1561.6 499.3" stroke="#e74c3c" stroke-opacity="0.7" stroke-width="2.6"/>
<g stroke-width="2.0" stroke-dasharray="7.7 3.3" stroke-opacity="0.4">
<path d="M196.5 708.4 L198.4 741.6" stroke="#e74c3c"/>
<path d="M215.6 728.3 L239.5 692.3" stroke="#27ae60"/>
<path d="M279.0 698.5 L302.6 668.5" stroke="#27ae60"/>
<path d="M307.4 670.7 L308.4 679.6" stroke="#e74c3c"/>
<path d="M312.6 669.4 L322.3 676.4" stroke="#e74c3c"/>
<path d="M344.4 675.1 L352.5 682.6" stroke="#e74c3c"/>
<path d="M354.5 679.5 L356.1 681.3" stroke="#e74c3c"/>
<path d="M357.5 675.2 L402.6 562.3" stroke="#27ae60"/>
<path d="M411.8 556.4 L425.5 494.8" stroke="#27ae60"/>
<path d="M437.5 507.0 L458.4 355.6" stroke="#27ae60"/>
<path d="M481.7 341.3 L502.5 177.6" stroke="#27ae60"/>
<path d="M538.5 133.6 L542.3 193.1" stroke="#e74c3c"/>
<path d="M584.9 268.6 L588.5 284.5" stroke="#e74c3c"/>
<path d="M657.7 389.8 L658.4 395.1" stroke="#e74c3c"/>
<path d="M662.6 385.4 L666.5 412.3" stroke="#e74c3c"/>
<path d="M681.5 388.0 L694.7 399.5" stroke="#e74c3c"/>
<path d="M721.2 419.0 L739.6 434.8" stroke="#e74c3c"/>
<path d="M768.0 474.4 L790.5 459.4" stroke="#27ae60"/>
<path d="M840.4 574.1 L842.5 584.8" stroke="#e74c3c"/>
<path d="M851.5 577.6 L854.3 592.2" stroke="#e74c3c"/>
<path d="M876.3 598.5 L914.4 435.6" stroke="#27ae60"/>
<path d="M993.9 494.6 L997.7 530.4" stroke="#e74c3c"/>
<path d="M1014.7 532.8 L1046.3 482.0" stroke="#27ae60"/>
<path d="M1061.5 482.3 L1061.8 490.5" stroke="#e74c3c"/>
<path d="M1073.7 491.7 L1078.3 500.8" stroke="#e74c3c"/>
<path d="M1078.6 468.9 L1088.8 486.0" stroke="#e74c3c"/>
<path d="M1098.4 475.7 L1100.1 485.2" stroke="#e74c3c"/>
<path d="M1102.7 474.5 L1103.3 485.2" stroke="#e74c3c"/>
<path d="M1152.4 511.4 L1160.5 540.5" stroke="#e74c3c"/>
<path d="M1162.4 519.4 L1166.5 529.3" stroke="#e74c3c"/>
<path d="M1203.5 564.1 L1218.5 573.0" stroke="#e74c3c"/>
<path d="M1227.6 559.4 L1229.3 576.7" stroke="#e74c3c"/>
<path d="M1244.4 573.1 L1252.5 597.6" stroke="#e74c3c"/>
<path d="M1258.1 573.1 L1260.5 576.1" stroke="#e74c3c"/>
<path d="M1262.4 571.4 L1273.6 575.6" stroke="#e74c3c"/>
<path d="M1341.6 616.7 L1349.2 569.4" stroke="#27ae60"/>
<path d="M1364.1 578.4 L1373.3 602.1" stroke="#e74c3c"/>
<path d="M1392.9 597.8 L1409.3 562.6" stroke="#27ae60"/>
<path d="M1418.7 556.8 L1423.2 525.2" stroke="#27ae60"/>
<path d="M1445.4 529.0 L1446.7 536.5" stroke="#e74c3c"/>
<path d="M1447.1 524.1 L1464.5 504.3" stroke="#27ae60"/>
<path d="M1474.8 476.6 L1480.6 478.1" stroke="#e74c3c"/>
<path d="M1502.5 501.3 L1503.5 506.4" stroke="#e74c3c"/>
<path d="M1515.5 493.6 L1529.3 503.2" stroke="#e74c3c"/>
<path d="M1542.5 485.2 L1552.5 501.9" stroke="#e74c3c"/>
<path d="M1556.7 482.2 L1561.6 515.7" stroke="#e74c3c"/>
</g>
<g fill="#27ae60" stroke="#000" stroke-width="2.78" stroke-linejoin="miter" stroke-miterlimit="10">
<path d="M196.5 698.7 L187.3 717.1 L205.7 717.1 Z"/>
<path d="M215.6 718.6 L206.4 737.0 L224.8 737.0 Z"/>
<path d="M279.0 688.8 L269.8 707.2 L288.2 707.2 Z"/>
<path d="M307.4 661.0 L298.2 679.5 L316.6 679.5 Z"/>
<path d="M312.6 659.7 L303.4 678.1 L321.8 678.1 Z"/>
<path d="M344.4 665.4 L335.2 683.9 L353.6 683.9 Z"/>
<path d="M354.5 669.8 L345.3 688.2 L363.7 688.2 Z"/>
<path d="M357.5 665.5 L348.3 684.0 L366.7 684.0 Z"/>
<path d="M411.8 546.7 L402.6 565.1 L421.0 565.1 Z"/>
<path d="M437.5 497.4 L428.3 515.8 L446.7 515.8 Z"/>
<path d="M481.7 331.7 L472.5 350.1 L490.9 350.1 Z"/>
<path d="M538.5 124.0 L529.3 142.3 L547.7 142.3 Z"/>
<path d="M584.9 259.0 L575.7 277.4 L594.1 277.4 Z"/>
<path d="M657.7 380.2 L648.5 398.6 L666.9 398.6 Z"/>
<path d="M662.6 375.8 L653.4 394.1 L671.8 394.1 Z"/>
<path d="M681.5 378.4 L672.3 396.8 L690.7 396.8 Z"/>
<path d="M721.2 409.4 L712.0 427.8 L730.4 427.8 Z"/>
<path d="M768.0 464.8 L758.8 483.1 L777.2 483.1 Z"/>
<path d="M840.4 564.4 L831.2 582.9 L849.6 582.9 Z"/>
<path d="M851.5 567.9 L842.3 586.4 L860.7 586.4 Z"/>
<path d="M876.3 588.8 L867.1 607.2 L885.5 607.2 Z"/>
<path d="M993.9 485.0 L984.7 503.4 L1003.1 503.4 Z"/>
<path d="M1014.7 523.1 L1005.5 541.5 L1023.9 541.5 Z"/>
<path d="M1061.5 472.7 L1052.3 491.1 L1070.7 491.1 Z"/>
<path d="M1073.7 482.1 L1064.5 500.4 L1082.9 500.4 Z"/>
<path d="M1078.6 459.2 L1069.4 477.6 L1087.8 477.6 Z"/>
<path d="M1098.4 466.1 L1089.2 484.4 L1107.6 484.4 Z"/>
<path d="M1102.7 464.9 L1093.5 483.2 L1111.9 483.2 Z"/>
<path d="M1152.4 501.8 L1143.2 520.1 L1161.6 520.1 Z"/>
<path d="M1162.4 509.7 L1153.2 528.1 L1171.6 528.1 Z"/>
<path d="M1203.5 554.4 L1194.3 572.9 L1212.7 572.9 Z"/>
<path d="M1227.6 549.7 L1218.4 568.1 L1236.8 568.1 Z"/>
<path d="M1244.4 563.4 L1235.2 581.9 L1253.6 581.9 Z"/>
<path d="M1258.1 563.4 L1248.9 581.9 L1267.3 581.9 Z"/>
<path d="M1262.4 561.7 L1253.2 580.1 L1271.6 580.1 Z"/>
<path d="M1341.6 607.0 L1332.4 625.5 L1350.8 625.5 Z"/>
<path d="M1364.1 568.7 L1354.9 587.1 L1373.3 587.1 Z"/>
<path d="M1392.9 588.1 L1383.7 606.5 L1402.1 606.5 Z"/>
<path d="M1418.7 547.1 L1409.5 565.5 L1427.9 565.5 Z"/>
<path d="M1445.4 519.3 L1436.2 537.8 L1454.6 537.8 Z"/>
<path d="M1447.1 514.4 L1437.9 532.9 L1456.3 532.9 Z"/>
<path d="M1474.8 467.0 L1465.6 485.4 L1484.0 485.4 Z"/>
<path d="M1502.5 491.7 L1493.3 510.1 L1511.7 510.1 Z"/>
<path d="M1515.5 484.0 L1506.3 502.4 L1524.7 502.4 Z"/>
<path d="M1542.5 475.6 L1533.3 493.9 L1551.7 493.9 Z"/>
<path d="M1556.7 472.6 L1547.5 490.9 L1565.9 490.9 Z"/>
</g>
<g fill="none" stroke="#c0392b" stroke-width="4.1" stroke-linecap="butt">
<path d="M188.8 732.0 L208.0 751.2 M188.8 751.2 L208.0 732.0"/>
<path d="M229.9 682.7 L249.1 701.9 M229.9 701.9 L249.1 682.7"/>
<path d="M293.0 658.9 L312.2 678.1 M293.0 678.1 L312.2 658.9"/>
<path d="M393.0 552.7 L412.2 571.9 M393.0 571.9 L412.2 552.7"/>
<path d="M415.9 485.2 L435.1 504.4 M415.9 504.4 L435.1 485.2"/>
<path d="M448.8 346.0 L468.0 365.2 M448.8 365.2 L468.0 346.0"/>
<path d="M492.9 168.0 L512.1 187.2 M492.9 187.2 L512.1 168.0"/>
<path d="M730.0 425.2 L749.2 444.4 M730.0 444.4 L749.2 425.2"/>
<path d="M780.9 449.8 L800.1 469.0 M780.9 469.0 L800.1 449.8"/>
<path d="M904.8 426.0 L924.0 445.2 M904.8 445.2 L924.0 426.0"/>
<path d="M988.1 520.8 L1007.3 540.0 M988.1 540.0 L1007.3 520.8"/>
<path d="M1036.7 472.4 L1055.9 491.6 M1036.7 491.6 L1055.9 472.4"/>
<path d="M1079.2 476.4 L1098.4 495.6 M1079.2 495.6 L1098.4 476.4"/>
<path d="M1242.9 588.0 L1262.1 607.2 M1242.9 607.2 L1262.1 588.0"/>
<path d="M1339.6 559.8 L1358.8 579.0 M1339.6 579.0 L1358.8 559.8"/>
<path d="M1399.7 553.0 L1418.9 572.2 M1399.7 572.2 L1418.9 553.0"/>
<path d="M1413.6 515.6 L1432.8 534.8 M1413.6 534.8 L1432.8 515.6"/>
<path d="M1454.9 494.7 L1474.1 513.9 M1454.9 513.9 L1474.1 494.7"/>
<path d="M1471.0 468.5 L1490.2 487.7 M1471.0 487.7 L1490.2 468.5"/>
<path d="M1552.0 506.1 L1571.2 525.3 M1552.0 525.3 L1571.2 506.1"/>
</g>
<g fill="#e74c3c" stroke="#000" stroke-width="2.78" stroke-linejoin="miter" stroke-miterlimit="10">
<path d="M308.4 689.3 L299.2 670.9 L317.6 670.9 Z"/>
<path d="M322.3 686.1 L313.1 667.6 L331.5 667.6 Z"/>
<path d="M352.5 692.3 L343.3 673.9 L361.7 673.9 Z"/>
<path d="M356.1 691.0 L346.9 672.5 L365.3 672.5 Z"/>
<path d="M542.3 202.7 L533.1 184.3 L551.5 184.3 Z"/>
<path d="M588.5 294.1 L579.3 275.8 L597.7 275.8 Z"/>
<path d="M658.4 404.8 L649.2 386.4 L667.6 386.4 Z"/>
<path d="M666.5 421.9 L657.3 403.6 L675.7 403.6 Z"/>
<path d="M694.7 409.1 L685.5 390.8 L703.9 390.8 Z"/>
<path d="M842.5 594.5 L833.3 576.0 L851.7 576.0 Z"/>
<path d="M854.3 601.9 L845.1 583.5 L863.5 583.5 Z"/>
<path d="M1061.8 500.1 L1052.6 481.8 L1071.0 481.8 Z"/>
<path d="M1078.3 510.4 L1069.1 492.1 L1087.5 492.1 Z"/>
<path d="M1100.1 494.8 L1090.9 476.4 L1109.3 476.4 Z"/>
<path d="M1103.3 494.8 L1094.1 476.4 L1112.5 476.4 Z"/>
<path d="M1160.5 550.2 L1151.3 531.8 L1169.7 531.8 Z"/>
<path d="M1166.5 539.0 L1157.3 520.5 L1175.7 520.5 Z"/>
<path d="M1218.5 582.7 L1209.3 564.2 L1227.7 564.2 Z"/>
<path d="M1229.3 586.4 L1220.1 568.0 L1238.5 568.0 Z"/>
<path d="M1260.5 585.8 L1251.3 567.4 L1269.7 567.4 Z"/>
<path d="M1273.6 585.3 L1264.4 566.9 L1282.8 566.9 Z"/>
<path d="M1373.3 611.8 L1364.1 593.4 L1382.5 593.4 Z"/>
<path d="M1446.7 546.2 L1437.5 527.8 L1455.9 527.8 Z"/>
<path d="M1503.5 516.0 L1494.3 497.6 L1512.7 497.6 Z"/>
<path d="M1529.3 512.9 L1520.1 494.4 L1538.5 494.4 Z"/>
<path d="M1552.5 511.5 L1543.3 493.1 L1561.7 493.1 Z"/>
</g>
</g>
<rect x="81.5" y="47.4" width="1550.2" height="770.0" fill="none" stroke="#000" stroke-width="1.1"/>
<g stroke="#000" stroke-width="1.1">
<path d="M151.4 817.4 v4.9"/>
<path d="M391.7 817.4 v4.9"/>
<path d="M631.3 817.4 v4.9"/>
<path d="M870.9 817.4 v4.9"/>
<path d="M1110.6 817.4 v4.9"/>
<path d="M1350.9 817.4 v4.9"/>
<path d="M1590.5 817.4 v4.9"/>
<path d="M81.5 805.5 h-4.9"/>
<path d="M81.5 687.0 h-4.9"/>
<path d="M81.5 568.5 h-4.9"/>
<path d="M81.5 450.0 h-4.9"/>
<path d="M81.5 331.5 h-4.9"/>
<path d="M81.5 213.0 h-4.9"/>
<path d="M81.5 94.5 h-4.9"/>
</g>
<g font-family="Liberation Sans, NanumGothic, Noto Sans CJK KR, sans-serif" font-size="15" fill="#262626">
<text x="70.6" y="810.8" text-anchor="end" textLength="39.5" lengthAdjust="spacingAndGlyphs">1,000</text>
<text x="70.6" y="692.3" text-anchor="end" textLength="39.5" lengthAdjust="spacingAndGlyphs">2,000</text>
<text x="70.6" y="573.8" text-anchor="end" textLength="39.5" lengthAdjust="spacingAndGlyphs">3,000</text>
<text x="70.6" y="455.3" text-anchor="end" textLength="39.5" lengthAdjust="spacingAndGlyphs">4,000</text>
<text x="70.6" y="336.8" text-anchor="end" textLength="39.5" lengthAdjust="spacingAndGlyphs">5,000</text>
<text x="70.6" y="218.3" text-anchor="end" textLength="39.5" lengthAdjust="spacingAndGlyphs">6,000</text>
<text x="70.6" y="99.8" text-anchor="end" textLength="39.5" lengthAdjust="spacingAndGlyphs">7,000</text>
<text transform="translate(146.8 838.9) rotate(-45)" text-anchor="end" textLength="86" lengthAdjust="spacingAndGlyphs">2020-01-01</text>
<text transform="translate(387.1 838.9) rotate(-45)" text-anchor="end" textLength="86" lengthAdjust="spacingAndGlyphs">2021-01-01</text>
<text transform="translate(626.7 838.9) rotate(-45)" text-anchor="end" textLength="86" lengthAdjust="spacingAndGlyphs">2022-01-01</text>
<text transform="translate(866.3 838.9) rotate(-45)" text-anchor="end" textLength="86" lengthAdjust="spacingAndGlyphs">2023-01-01</text>
<text transform="translate(1106.0 838.9) rotate(-45)" text-anchor="end" textLength="86" lengthAdjust="spacingAndGlyphs">2024-01-01</text>
<text transform="translate(1346.3 838.9) rotate(-45)" text-anchor="end" textLength="86" lengthAdjust="spacingAndGlyphs">2025-01-01</text>
<text transform="translate(1585.9 838.9) rotate(-45)" text-anchor="end" textLength="86" lengthAdjust="spacingAndGlyphs">2026-01-01</text>
</g>
<text font-family="Liberation Sans, NanumGothic, Noto Sans CJK KR, sans-serif" font-size="14.8" fill="#262626" x="855.7" y="917.8" text-anchor="middle" textLength="28.3" lengthAdjust="spacingAndGlyphs">날짜</text>
<text font-family="Liberation Sans, NanumGothic, Noto Sans CJK KR, sans-serif" font-size="14.5" fill="#262626" transform="translate(20.2 434.5) rotate(-90)" text-anchor="middle" textLength="63" lengthAdjust="spacingAndGlyphs">가격 (원)</text>
<text font-family="Liberation Sans, NanumGothic, Noto Sans CJK KR, sans-serif" font-size="19.4" fill="#262626" x="856.5" y="27" text-anchor="middle" textLength="503" lengthAdjust="spacingAndGlyphs">매수/매도 시점 분석 (short=5, long=25, stop_loss=8%)</text>
<rect x="88.4" y="54.3" width="295.9" height="66.8" rx="2.8" fill="#fff" fill-opacity="0.8" stroke="#ccc" stroke-opacity="0.8" stroke-width="1.1"/>
<g fill="none">
<path d="M93.1 65.8 H122.9" stroke="#34495e" stroke-opacity="0.85" stroke-width="2.08"/>
<path d="M92.7 87.4 H124.0" stroke="#3498db" stroke-opacity="0.7" stroke-width="2.78"/>
<path d="M92.7 108.5 H124.0" stroke="#e74c3c" stroke-opacity="0.7" stroke-width="2.78"/>
</g>
<g fill="#27ae60" stroke="#000" stroke-width="2.78" stroke-linejoin="miter" stroke-miterlimit="10"><path d="M270.4 58.7 L261.2 77.1 L279.6 77.1 Z"/></g>
<g fill="none" stroke="#c0392b" stroke-width="4.1"><path d="M260.8 78.4 L280.0 97.6 M260.8 97.6 L280.0 78.4"/></g>
<g fill="#e74c3c" stroke="#000" stroke-width="2.78" stroke-linejoin="miter" stroke-miterlimit="10"><path d="M270.4 118.0 L261.2 99.6 L279.6 99.6 Z"/></g>
<g font-family="Liberation Sans, NanumGothic, Noto Sans CJK KR, sans-serif" font-size="13.9" fill="#262626">
<text x="133.7" y="70.8" textLength="26.8" lengthAdjust="spacingAndGlyphs">종가</text>
<text x="133.7" y="92.4" textLength="84.3" lengthAdjust="spacingAndGlyphs">단기 EMA(5)</text>
<text x="133.7" y="113.6" textLength="93.6" lengthAdjust="spacingAndGlyphs">장기 EMA(25)</text>
<text x="297" y="72.2" textLength="24.9" lengthAdjust="spacingAndGlyphs">매수</text>
<text x="297" y="92.4" textLength="65.4" lengthAdjust="spacingAndGlyphs">매도(손절)</text>
<text x="297" y="113.0" textLength="79.5" lengthAdjust="spacingAndGlyphs">매도(시그널)</text>
</g>
</svg>
</body></html>
